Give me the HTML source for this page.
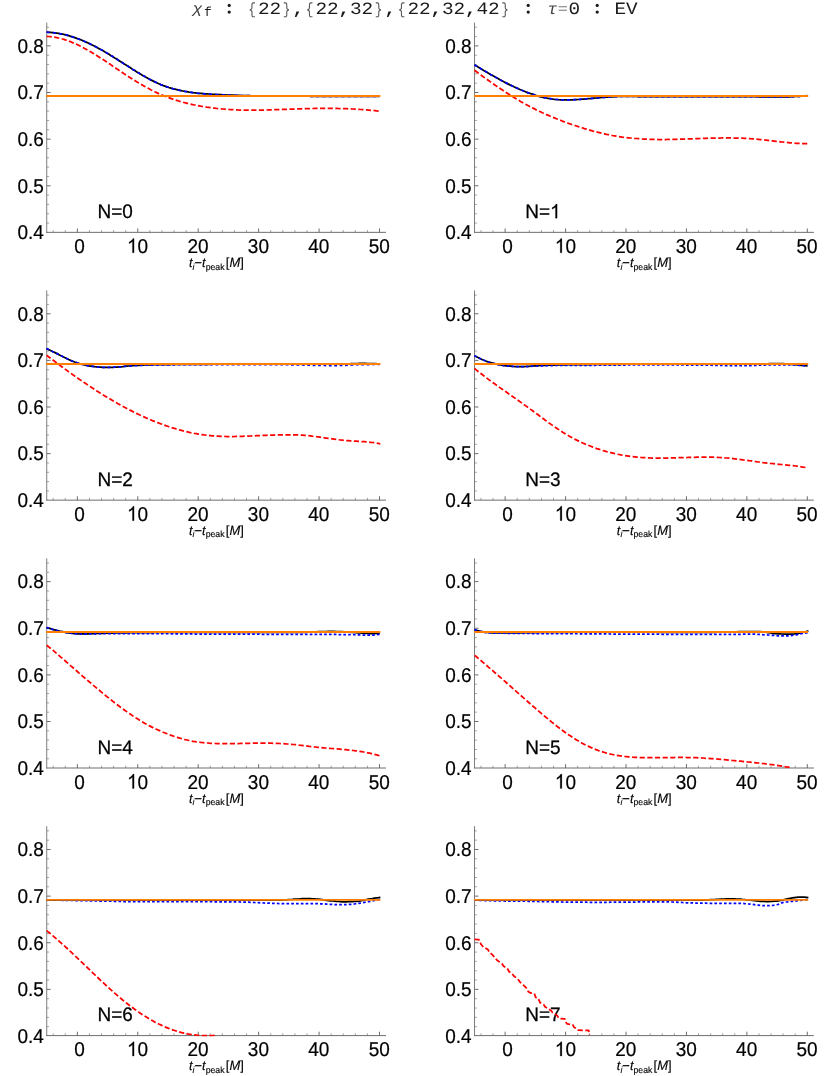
<!DOCTYPE html>
<html lang="en"><head><meta charset="utf-8"><title>chi_f fits</title>
<style>
html,body{margin:0;padding:0;background:#fff;}
body{width:830px;height:1076px;overflow:hidden;font-family:"Liberation Sans",sans-serif;}
svg{display:block;will-change:transform;}
text{font-family:"Liberation Sans",sans-serif;fill:#000;text-rendering:geometricPrecision;}
.tl text{font-size:19px;stroke:#000;stroke-width:0.2px;}
.nl{font-size:19px;stroke:#000;stroke-width:0.25px;}
.al{font-size:12.9px;stroke:#000;stroke-width:0.15px;}
.al .sub{font-size:8.7px;}
.tt text{font-family:"Liberation Mono",monospace;font-size:18px;fill:#1a1a1a;}
</style></head><body>
<svg width="830" height="1076" viewBox="0 0 830 1076">
<g class="tt">
<text transform="translate(197.60,13.00) scale(1.22,1)" text-anchor="middle" style="font-size:14.2px;fill:#3a3a3a;font-family:&quot;Liberation Sans&quot;;font-style:italic;">χ</text>
<text transform="translate(207.90,16.20) scale(1.0,1)" text-anchor="middle" style="font-size:13.1px;fill:#1a1a1a;">f</text>
<circle cx="229.20" cy="5.45" r="1.6" fill="#1a1a1a"/><circle cx="229.20" cy="12.1" r="1.6" fill="#1a1a1a"/>
<text transform="translate(252.20,13.50) scale(0.8,1)" text-anchor="middle" style="font-size:16.1px;fill:#5a5a5a;">{</text>
<text transform="translate(263.70,13.70) scale(1.12,1)" text-anchor="middle" style="font-size:17.3px;fill:#1a1a1a;">2</text>
<text transform="translate(275.20,13.70) scale(1.12,1)" text-anchor="middle" style="font-size:17.3px;fill:#1a1a1a;">2</text>
<text transform="translate(286.70,13.50) scale(0.8,1)" text-anchor="middle" style="font-size:16.1px;fill:#5a5a5a;">}</text>
<text transform="translate(298.20,13.80) scale(1.1,1)" text-anchor="middle" style="font-size:17.0px;fill:#1a1a1a;font-weight:bold;">,</text>
<text transform="translate(309.70,13.50) scale(0.8,1)" text-anchor="middle" style="font-size:16.1px;fill:#5a5a5a;">{</text>
<text transform="translate(321.20,13.70) scale(1.12,1)" text-anchor="middle" style="font-size:17.3px;fill:#1a1a1a;">2</text>
<text transform="translate(332.70,13.70) scale(1.12,1)" text-anchor="middle" style="font-size:17.3px;fill:#1a1a1a;">2</text>
<text transform="translate(344.20,13.80) scale(1.1,1)" text-anchor="middle" style="font-size:17.0px;fill:#1a1a1a;font-weight:bold;">,</text>
<text transform="translate(355.70,13.70) scale(1.12,1)" text-anchor="middle" style="font-size:17.3px;fill:#1a1a1a;">3</text>
<text transform="translate(367.20,13.70) scale(1.12,1)" text-anchor="middle" style="font-size:17.3px;fill:#1a1a1a;">2</text>
<text transform="translate(378.70,13.50) scale(0.8,1)" text-anchor="middle" style="font-size:16.1px;fill:#5a5a5a;">}</text>
<text transform="translate(390.20,13.80) scale(1.1,1)" text-anchor="middle" style="font-size:17.0px;fill:#1a1a1a;font-weight:bold;">,</text>
<text transform="translate(401.70,13.50) scale(0.8,1)" text-anchor="middle" style="font-size:16.1px;fill:#5a5a5a;">{</text>
<text transform="translate(413.20,13.70) scale(1.12,1)" text-anchor="middle" style="font-size:17.3px;fill:#1a1a1a;">2</text>
<text transform="translate(424.70,13.70) scale(1.12,1)" text-anchor="middle" style="font-size:17.3px;fill:#1a1a1a;">2</text>
<text transform="translate(436.20,13.80) scale(1.1,1)" text-anchor="middle" style="font-size:17.0px;fill:#1a1a1a;font-weight:bold;">,</text>
<text transform="translate(447.70,13.70) scale(1.12,1)" text-anchor="middle" style="font-size:17.3px;fill:#1a1a1a;">3</text>
<text transform="translate(459.20,13.70) scale(1.12,1)" text-anchor="middle" style="font-size:17.3px;fill:#1a1a1a;">2</text>
<text transform="translate(470.70,13.80) scale(1.1,1)" text-anchor="middle" style="font-size:17.0px;fill:#1a1a1a;font-weight:bold;">,</text>
<text transform="translate(482.20,13.70) scale(1.12,1)" text-anchor="middle" style="font-size:17.3px;fill:#1a1a1a;">4</text>
<text transform="translate(493.70,13.70) scale(1.12,1)" text-anchor="middle" style="font-size:17.3px;fill:#1a1a1a;">2</text>
<text transform="translate(505.20,13.50) scale(0.8,1)" text-anchor="middle" style="font-size:16.1px;fill:#5a5a5a;">}</text>
<circle cx="528.20" cy="5.45" r="1.6" fill="#1a1a1a"/><circle cx="528.20" cy="12.1" r="1.6" fill="#1a1a1a"/>
<text transform="translate(551.50,13.5) skewX(-12) scale(1.08,1)" text-anchor="middle" style="font-size:16.2px;fill:#484848;">τ</text>
<text transform="translate(562.90,13.40) scale(1.24,1)" text-anchor="middle" style="font-size:13.6px;fill:#777;">=</text>
<text transform="translate(574.20,13.70) scale(1.12,1)" text-anchor="middle" style="font-size:17.3px;fill:#1a1a1a;">0</text>
<circle cx="597.20" cy="5.45" r="1.6" fill="#1a1a1a"/><circle cx="597.20" cy="12.1" r="1.6" fill="#1a1a1a"/>
<text transform="translate(620.20,13.70) scale(1.12,1)" text-anchor="middle" style="font-size:17.3px;fill:#1a1a1a;">E</text>
<text transform="translate(631.70,13.70) scale(1.12,1)" text-anchor="middle" style="font-size:17.3px;fill:#1a1a1a;">V</text>
</g>
<g>
<clipPath id="c0"><rect x="46.03" y="22.6" width="341.3" height="210.28"/></clipPath>
<g stroke="#666" fill="none">
<path stroke-width="0.85" d="M46.73,22.56V232.80"/>
<path stroke-width="0.95" d="M46.31,232.35H386.03"/>
<path stroke-width="0.9" stroke="#5c5c5c" d="M77.35,232.35v-3.9M137.78,232.35v-3.9M198.21,232.35v-3.9M258.64,232.35v-3.9M319.07,232.35v-3.9M379.50,232.35v-3.9M46.73,185.77h3.9M46.73,139.14h3.9M46.73,92.51h3.9M46.73,45.88h3.9"/>
<path stroke-width="0.6" d="M53.18,232.35v-2.3M65.26,232.35v-2.3M89.44,232.35v-2.3M101.52,232.35v-2.3M113.61,232.35v-2.3M125.69,232.35v-2.3M149.87,232.35v-2.3M161.95,232.35v-2.3M174.04,232.35v-2.3M186.12,232.35v-2.3M210.30,232.35v-2.3M222.38,232.35v-2.3M234.47,232.35v-2.3M246.55,232.35v-2.3M270.73,232.35v-2.3M282.81,232.35v-2.3M294.90,232.35v-2.3M306.98,232.35v-2.3M331.16,232.35v-2.3M343.24,232.35v-2.3M355.33,232.35v-2.3M367.41,232.35v-2.3M46.73,223.07h2.3M46.73,213.75h2.3M46.73,204.42h2.3M46.73,195.10h2.3M46.73,176.44h2.3M46.73,167.12h2.3M46.73,157.79h2.3M46.73,148.47h2.3M46.73,129.81h2.3M46.73,120.49h2.3M46.73,111.16h2.3M46.73,101.84h2.3M46.73,83.18h2.3M46.73,73.86h2.3M46.73,64.53h2.3M46.73,55.21h2.3M46.73,36.55h2.3M46.73,27.23h2.3"/>
</g>
<g class="tl">
<text transform="translate(74.37,252.85) scale(1,1.055)">0</text>
<path transform="translate(127.01,252.85) scale(0.009277,-0.009788)" d="M763 0H583V1147Q518 1085 412.5 1023T223 930V1104Q374 1175 487 1276T647 1472H763Z" fill="#000" stroke="#000" stroke-width="21.6"/><text transform="translate(137.58,252.85) scale(1,1.055)">0</text>
<text transform="translate(187.44,252.85) scale(1,1.055)">20</text>
<text transform="translate(247.87,252.85) scale(1,1.055)">30</text>
<text transform="translate(308.30,252.85) scale(1,1.055)">40</text>
<text transform="translate(368.73,252.85) scale(1,1.055)">50</text>
<text transform="translate(17.42,239.20) scale(1,1.055)">0.4</text>
<text transform="translate(17.42,192.57) scale(1,1.055)">0.5</text>
<text transform="translate(17.42,145.94) scale(1,1.055)">0.6</text>
<text transform="translate(17.42,99.31) scale(1,1.055)">0.7</text>
<text transform="translate(17.42,52.68) scale(1,1.055)">0.8</text>
</g>
<text class="al" transform="translate(216.38,267.10) scale(1,1.03)" text-anchor="middle"><tspan font-style="italic">t</tspan><tspan class="sub" dy="2.5" font-style="italic">i</tspan><tspan dy="-2.5">&#8722;</tspan><tspan font-style="italic">t</tspan><tspan class="sub" dy="2.5">peak</tspan><tspan dy="-2.5" dx="1.3">[</tspan><tspan font-style="italic">M</tspan>]</text>
<text class="nl" transform="translate(97.44,218.15) scale(1,1.03)">N=0</text>
<g clip-path="url(#c0)" fill="none" stroke-width="1.75" stroke-linejoin="round">
<path d="M46.6,36.4 L48.6,36.5 L50.6,36.7 L52.6,36.9 L54.6,37.2 L56.6,37.6 L58.6,38.0 L60.6,38.5 L62.6,39.0 L64.6,39.6 L66.6,40.3 L68.6,41.0 L70.6,41.8 L72.6,42.6 L74.6,43.4 L76.6,44.3 L78.6,45.3 L80.6,46.3 L82.6,47.3 L84.6,48.4 L86.6,49.5 L88.6,50.6 L90.6,51.8 L92.6,53.0 L94.6,54.2 L96.6,55.4 L98.6,56.7 L100.6,58.0 L102.6,59.3 L104.6,60.6 L106.6,61.9 L108.6,63.3 L110.6,64.6 L112.6,66.0 L114.6,67.3 L116.6,68.7 L118.6,70.0 L120.6,71.4 L122.6,72.7 L124.6,74.1 L126.6,75.4 L128.7,76.7 L130.7,78.0 L132.7,79.3 L134.7,80.5 L136.7,81.7 L138.7,83.0 L140.7,84.1 L142.7,85.3 L144.7,86.4 L146.7,87.5 L148.7,88.6 L150.7,89.7 L152.7,90.7 L154.7,91.7 L156.7,92.6 L158.7,93.6 L160.7,94.5 L162.7,95.3 L164.7,96.1 L166.7,96.9 L168.7,97.7 L170.7,98.4 L172.7,99.1 L174.7,99.8 L176.7,100.4 L178.7,101.0 L180.7,101.6 L182.7,102.1 L184.7,102.7 L186.7,103.2 L188.7,103.7 L190.7,104.1 L192.7,104.6 L194.7,105.0 L196.7,105.4 L198.7,105.8 L200.7,106.2 L202.7,106.5 L204.7,106.8 L206.7,107.2 L208.7,107.4 L210.7,107.7 L212.7,108.0 L214.7,108.2 L216.7,108.5 L218.7,108.7 L220.7,108.9 L222.7,109.0 L224.7,109.2 L226.7,109.4 L228.7,109.5 L230.7,109.6 L232.7,109.7 L234.7,109.8 L236.7,109.9 L238.7,110.0 L240.7,110.0 L242.7,110.1 L244.7,110.1 L246.7,110.1 L248.7,110.2 L250.7,110.2 L252.7,110.2 L254.7,110.2 L256.7,110.1 L258.7,110.1 L260.7,110.1 L262.7,110.1 L264.7,110.0 L266.7,110.0 L268.7,109.9 L270.7,109.9 L272.7,109.8 L274.7,109.7 L276.7,109.7 L278.7,109.6 L280.7,109.5 L282.7,109.4 L284.7,109.4 L286.7,109.3 L288.7,109.2 L290.7,109.2 L292.7,109.1 L294.7,109.0 L296.7,108.9 L298.7,108.9 L300.7,108.8 L302.7,108.7 L304.7,108.7 L306.7,108.6 L308.7,108.6 L310.7,108.5 L312.7,108.5 L314.7,108.4 L316.7,108.4 L318.7,108.4 L320.7,108.4 L322.7,108.4 L324.7,108.4 L326.7,108.4 L328.7,108.4 L330.7,108.4 L332.7,108.4 L334.7,108.4 L336.7,108.4 L338.7,108.5 L340.7,108.5 L342.7,108.6 L344.7,108.7 L346.7,108.7 L348.7,108.8 L350.7,108.9 L352.7,109.0 L354.7,109.1 L356.7,109.2 L358.7,109.3 L360.7,109.5 L362.7,109.6 L364.7,109.8 L366.7,109.9 L368.7,110.1 L370.7,110.3 L372.7,110.4 L374.7,110.6 L376.7,110.9 L378.7,111.1 L380.7,111.3" stroke="#ff0000" stroke-dasharray="5.2 2.45"/>
<path d="M46.6,32.2 L48.6,32.3 L50.6,32.4 L52.6,32.6 L54.6,32.8 L56.6,33.1 L58.6,33.4 L60.7,33.8 L62.7,34.2 L64.7,34.6 L66.7,35.1 L68.7,35.7 L70.7,36.3 L72.7,36.9 L74.7,37.6 L76.7,38.3 L78.7,39.0 L80.7,39.8 L82.7,40.6 L84.7,41.5 L86.7,42.4 L88.7,43.3 L90.7,44.2 L92.7,45.2 L94.7,46.2 L96.7,47.3 L98.7,48.4 L100.7,49.5 L102.7,50.6 L104.7,51.8 L106.7,52.9 L108.7,54.1 L110.7,55.4 L112.7,56.6 L114.7,57.9 L116.7,59.1 L118.7,60.4 L120.8,61.7 L122.8,63.0 L124.8,64.3 L126.8,65.5 L128.8,66.8 L130.8,68.1 L132.8,69.4 L134.8,70.6 L136.8,71.9 L138.8,73.1 L140.8,74.3 L142.8,75.5 L144.8,76.6 L146.8,77.7 L148.8,78.8 L150.8,79.9 L152.8,80.9 L154.8,81.9 L156.8,82.8 L158.8,83.7 L160.8,84.6 L162.8,85.4 L164.8,86.1 L166.8,86.8 L168.8,87.5 L170.8,88.1 L172.8,88.7 L174.8,89.2 L176.8,89.7 L178.9,90.2 L180.9,90.6 L182.9,91.0 L184.9,91.4 L186.9,91.7 L188.9,92.1 L190.9,92.3 L192.9,92.6 L194.9,92.8 L196.9,93.1 L198.9,93.3 L200.9,93.4 L202.9,93.6 L204.9,93.8 L206.9,93.9 L208.9,94.0 L210.9,94.2 L212.9,94.3 L214.9,94.4 L216.9,94.5 L218.9,94.6 L220.9,94.7 L222.9,94.8 L224.9,94.9 L226.9,95.0 L228.9,95.1 L230.9,95.1 L232.9,95.2 L234.9,95.3 L237.0,95.3 L239.0,95.4 L241.0,95.5 L243.0,95.5 L245.0,95.6 L247.0,95.7 L249.0,95.7 L251.0,95.8 L253.0,95.8 L255.0,95.9 L257.0,95.9 L259.0,96.0 L261.0,96.0 L263.0,96.1 L265.0,96.1 L267.0,96.1 L269.0,96.1 L271.0,96.1 L273.0,96.1 L275.0,96.1 L277.1,96.1 L279.1,96.1 L281.1,96.1 L283.1,96.1 L285.1,96.1 L287.1,96.1 L289.1,96.1 L291.1,96.1 L293.1,96.1 L295.1,96.1 L297.1,96.1 L299.1,96.1 L301.2,96.1 L303.2,96.2 L305.2,96.2 L307.2,96.2 L309.2,96.2 L311.2,96.3 L313.2,96.3 L315.2,96.3 L317.2,96.3 L319.2,96.3 L321.2,96.4 L323.3,96.4 L325.3,96.4 L327.3,96.4 L329.3,96.4 L331.3,96.4 L333.3,96.4 L335.3,96.4 L337.3,96.4 L339.3,96.4 L341.3,96.4 L343.3,96.4 L345.4,96.4 L347.4,96.4 L349.4,96.4 L351.4,96.4 L353.4,96.4 L355.4,96.4 L357.4,96.4 L359.4,96.4 L361.4,96.4 L363.4,96.4 L365.4,96.4 L367.4,96.4 L369.5,96.4 L371.5,96.4 L373.5,96.4 L375.5,96.4 L377.5,96.4 L379.5,96.5" stroke="#000"/>
<path d="M46.6,32.2 L48.6,32.3 L50.6,32.4 L52.6,32.6 L54.6,32.8 L56.6,33.1 L58.6,33.4 L60.7,33.8 L62.7,34.2 L64.7,34.6 L66.7,35.1 L68.7,35.7 L70.7,36.3 L72.7,36.9 L74.7,37.6 L76.7,38.3 L78.7,39.0 L80.7,39.8 L82.7,40.6 L84.7,41.5 L86.7,42.4 L88.7,43.3 L90.7,44.2 L92.7,45.2 L94.7,46.2 L96.7,47.3 L98.7,48.4 L100.7,49.5 L102.7,50.6 L104.7,51.8 L106.7,52.9 L108.7,54.1 L110.7,55.4 L112.7,56.6 L114.7,57.9 L116.7,59.1 L118.7,60.4 L120.8,61.7 L122.8,63.0 L124.8,64.3 L126.8,65.5 L128.8,66.8 L130.8,68.1 L132.8,69.4 L134.8,70.6 L136.8,71.9 L138.8,73.1 L140.8,74.3 L142.8,75.5 L144.8,76.6 L146.8,77.7 L148.8,78.8 L150.8,79.9 L152.8,80.9 L154.8,81.9 L156.8,82.8 L158.8,83.7 L160.8,84.6 L162.8,85.4 L164.8,86.1 L166.8,86.8 L168.8,87.5 L170.8,88.1 L172.8,88.7 L174.8,89.2 L176.8,89.7 L178.9,90.2 L180.9,90.6 L182.9,91.0 L184.9,91.4 L186.9,91.7 L188.9,92.1 L190.9,92.3 L192.9,92.6 L194.9,92.8 L196.9,93.1 L198.9,93.3 L200.9,93.4 L202.9,93.6 L204.9,93.8 L206.9,93.9 L208.9,94.0 L210.9,94.2 L212.9,94.3 L214.9,94.4 L216.9,94.5 L218.9,94.6 L220.9,94.7 L222.9,94.8 L224.9,94.9 L226.9,95.0 L228.9,95.1 L230.9,95.1 L232.9,95.2 L234.9,95.3 L237.0,95.3 L239.0,95.4 L241.0,95.5 L243.0,95.5 L245.0,95.6 L247.0,95.7 L249.0,95.7 L251.0,95.8 L253.0,95.8 L255.0,95.9 L257.0,95.9 L259.0,96.0 L261.0,96.0 L263.0,96.1 L265.0,96.1 L267.0,96.1 L269.0,96.1 L271.0,96.1 L273.0,96.1 L275.0,96.1 L277.1,96.1 L279.1,96.1 L281.1,96.1 L283.1,96.1 L285.1,96.1 L287.1,96.1 L289.1,96.1 L291.1,96.1 L293.1,96.1 L295.1,96.1 L297.1,96.1 L299.1,96.1 L301.2,96.1 L303.2,96.2 L305.2,96.2 L307.2,96.2 L309.2,96.2 L311.2,96.3 L313.2,96.3 L315.2,96.3 L317.2,96.3 L319.2,96.3 L321.2,96.4 L323.3,96.4 L325.3,96.4 L327.3,96.4 L329.3,96.4 L331.3,96.4 L333.3,96.4 L335.3,96.4 L337.3,96.4 L339.3,96.4 L341.3,96.4 L343.3,96.4 L345.4,96.4 L347.4,96.4 L349.4,96.4 L351.4,96.4 L353.4,96.4 L355.4,96.4 L357.4,96.4 L359.4,96.4 L361.4,96.4 L363.4,96.4 L365.4,96.4 L367.4,96.4 L369.5,96.4 L371.5,96.4 L373.5,96.4 L375.5,96.4 L377.5,96.4 L379.5,96.5" stroke="#0000ff" stroke-dasharray="3.1 3.2"/>
<path d="M46.03,96.05H380.4" stroke="#ff8000" stroke-width="1.9"/>
</g>
</g>
<g>
<clipPath id="c1"><rect x="473.83" y="22.6" width="341.3" height="210.28"/></clipPath>
<g stroke="#666" fill="none">
<path stroke-width="0.85" d="M474.53,22.56V232.80"/>
<path stroke-width="0.95" d="M474.11,232.35H813.83"/>
<path stroke-width="0.9" stroke="#5c5c5c" d="M505.15,232.35v-3.9M565.58,232.35v-3.9M626.01,232.35v-3.9M686.44,232.35v-3.9M746.87,232.35v-3.9M807.30,232.35v-3.9M474.53,185.77h3.9M474.53,139.14h3.9M474.53,92.51h3.9M474.53,45.88h3.9"/>
<path stroke-width="0.6" d="M480.98,232.35v-2.3M493.06,232.35v-2.3M517.24,232.35v-2.3M529.32,232.35v-2.3M541.41,232.35v-2.3M553.49,232.35v-2.3M577.67,232.35v-2.3M589.75,232.35v-2.3M601.84,232.35v-2.3M613.92,232.35v-2.3M638.10,232.35v-2.3M650.18,232.35v-2.3M662.27,232.35v-2.3M674.35,232.35v-2.3M698.53,232.35v-2.3M710.61,232.35v-2.3M722.70,232.35v-2.3M734.78,232.35v-2.3M758.96,232.35v-2.3M771.04,232.35v-2.3M783.13,232.35v-2.3M795.21,232.35v-2.3M474.53,223.07h2.3M474.53,213.75h2.3M474.53,204.42h2.3M474.53,195.10h2.3M474.53,176.44h2.3M474.53,167.12h2.3M474.53,157.79h2.3M474.53,148.47h2.3M474.53,129.81h2.3M474.53,120.49h2.3M474.53,111.16h2.3M474.53,101.84h2.3M474.53,83.18h2.3M474.53,73.86h2.3M474.53,64.53h2.3M474.53,55.21h2.3M474.53,36.55h2.3M474.53,27.23h2.3"/>
</g>
<g class="tl">
<text transform="translate(502.17,252.85) scale(1,1.055)">0</text>
<path transform="translate(554.81,252.85) scale(0.009277,-0.009788)" d="M763 0H583V1147Q518 1085 412.5 1023T223 930V1104Q374 1175 487 1276T647 1472H763Z" fill="#000" stroke="#000" stroke-width="21.6"/><text transform="translate(565.38,252.85) scale(1,1.055)">0</text>
<text transform="translate(615.24,252.85) scale(1,1.055)">20</text>
<text transform="translate(675.67,252.85) scale(1,1.055)">30</text>
<text transform="translate(736.10,252.85) scale(1,1.055)">40</text>
<text transform="translate(796.53,252.85) scale(1,1.055)">50</text>
<text transform="translate(445.22,239.20) scale(1,1.055)">0.4</text>
<text transform="translate(445.22,192.57) scale(1,1.055)">0.5</text>
<text transform="translate(445.22,145.94) scale(1,1.055)">0.6</text>
<text transform="translate(445.22,99.31) scale(1,1.055)">0.7</text>
<text transform="translate(445.22,52.68) scale(1,1.055)">0.8</text>
</g>
<text class="al" transform="translate(644.18,267.10) scale(1,1.03)" text-anchor="middle"><tspan font-style="italic">t</tspan><tspan class="sub" dy="2.5" font-style="italic">i</tspan><tspan dy="-2.5">&#8722;</tspan><tspan font-style="italic">t</tspan><tspan class="sub" dy="2.5">peak</tspan><tspan dy="-2.5" dx="1.3">[</tspan><tspan font-style="italic">M</tspan>]</text>
<text class="nl" transform="translate(525.24,218.15) scale(1,1.03)">N=</text><path transform="translate(550.05,218.15) scale(0.009277,-0.009556)" d="M763 0H583V1147Q518 1085 412.5 1023T223 930V1104Q374 1175 487 1276T647 1472H763Z" fill="#000" stroke="#000" stroke-width="26.9"/>
<g clip-path="url(#c1)" fill="none" stroke-width="1.75" stroke-linejoin="round">
<path d="M474.5,70.3 L476.5,71.8 L478.5,73.3 L480.5,74.7 L482.5,76.2 L484.5,77.6 L486.5,79.0 L488.5,80.5 L490.5,81.9 L492.5,83.3 L494.5,84.7 L496.5,86.1 L498.5,87.4 L500.5,88.8 L502.5,90.1 L504.5,91.4 L506.5,92.7 L508.5,94.0 L510.5,95.3 L512.5,96.6 L514.5,97.8 L516.5,99.0 L518.5,100.2 L520.5,101.4 L522.5,102.5 L524.5,103.6 L526.5,104.8 L528.5,105.8 L530.5,106.9 L532.5,107.9 L534.5,108.9 L536.4,109.9 L538.4,110.9 L540.4,111.8 L542.4,112.8 L544.4,113.7 L546.4,114.6 L548.4,115.4 L550.4,116.3 L552.4,117.1 L554.4,117.9 L556.4,118.7 L558.4,119.5 L560.4,120.3 L562.4,121.1 L564.4,121.8 L566.4,122.5 L568.4,123.3 L570.4,124.0 L572.4,124.7 L574.4,125.3 L576.4,126.0 L578.4,126.7 L580.4,127.3 L582.4,127.9 L584.4,128.6 L586.4,129.2 L588.4,129.7 L590.4,130.3 L592.4,130.9 L594.4,131.4 L596.4,131.9 L598.4,132.4 L600.4,132.9 L602.4,133.4 L604.4,133.8 L606.4,134.3 L608.4,134.7 L610.4,135.1 L612.4,135.5 L614.4,135.8 L616.4,136.2 L618.4,136.5 L620.4,136.8 L622.4,137.1 L624.4,137.3 L626.4,137.6 L628.4,137.8 L630.4,138.0 L632.4,138.2 L634.4,138.4 L636.4,138.5 L638.4,138.7 L640.4,138.8 L642.4,139.0 L644.4,139.1 L646.3,139.2 L648.3,139.2 L650.3,139.3 L652.3,139.4 L654.3,139.4 L656.3,139.4 L658.3,139.5 L660.3,139.5 L662.3,139.5 L664.3,139.5 L666.3,139.5 L668.3,139.4 L670.3,139.4 L672.3,139.4 L674.3,139.3 L676.3,139.3 L678.3,139.2 L680.3,139.2 L682.3,139.1 L684.3,139.1 L686.3,139.0 L688.3,138.9 L690.3,138.9 L692.3,138.8 L694.3,138.7 L696.3,138.6 L698.3,138.6 L700.3,138.5 L702.3,138.4 L704.3,138.4 L706.3,138.3 L708.3,138.2 L710.3,138.2 L712.3,138.1 L714.3,138.1 L716.3,138.0 L718.3,138.0 L720.3,138.0 L722.3,137.9 L724.3,137.9 L726.3,137.9 L728.3,137.9 L730.3,137.9 L732.3,138.0 L734.3,138.0 L736.3,138.0 L738.3,138.1 L740.3,138.1 L742.3,138.2 L744.3,138.3 L746.3,138.4 L748.3,138.5 L750.3,138.7 L752.3,138.8 L754.2,139.0 L756.2,139.2 L758.2,139.4 L760.2,139.6 L762.2,139.8 L764.2,140.0 L766.2,140.2 L768.2,140.4 L770.2,140.7 L772.2,140.9 L774.2,141.1 L776.2,141.4 L778.2,141.6 L780.2,141.8 L782.2,142.0 L784.2,142.2 L786.2,142.4 L788.2,142.6 L790.2,142.8 L792.2,143.0 L794.2,143.1 L796.2,143.3 L798.2,143.4 L800.2,143.5 L802.2,143.6 L804.2,143.6 L806.2,143.7 L808.2,143.7" stroke="#ff0000" stroke-dasharray="5.2 2.45"/>
<path d="M474.5,64.9 L476.5,66.1 L478.5,67.3 L480.5,68.5 L482.5,69.7 L484.5,70.9 L486.5,72.0 L488.5,73.2 L490.5,74.4 L492.5,75.5 L494.4,76.6 L496.4,77.7 L498.4,78.8 L500.4,79.9 L502.4,81.0 L504.4,82.1 L506.4,83.1 L508.4,84.1 L510.4,85.1 L512.4,86.0 L514.4,87.0 L516.4,87.9 L518.4,88.8 L520.4,89.7 L522.4,90.5 L524.4,91.3 L526.3,92.1 L528.3,92.8 L530.3,93.5 L532.3,94.2 L534.3,94.9 L536.3,95.5 L538.3,96.1 L540.3,96.6 L542.3,97.1 L544.3,97.6 L546.3,98.0 L548.3,98.4 L550.3,98.7 L552.3,99.0 L554.3,99.3 L556.3,99.5 L558.2,99.7 L560.2,99.8 L562.2,99.9 L564.2,99.9 L566.2,99.9 L568.2,99.9 L570.2,99.9 L572.2,99.8 L574.2,99.7 L576.2,99.6 L578.2,99.5 L580.2,99.4 L582.2,99.2 L584.2,99.1 L586.2,98.9 L588.2,98.7 L590.2,98.6 L592.1,98.4 L594.1,98.2 L596.1,98.0 L598.1,97.9 L600.1,97.7 L602.1,97.5 L604.1,97.4 L606.1,97.2 L608.1,97.1 L610.1,96.9 L612.1,96.8 L614.1,96.7 L616.1,96.6 L618.1,96.5 L620.1,96.4 L622.1,96.3 L624.0,96.3 L626.0,96.3 L628.0,96.3 L630.0,96.3 L632.0,96.3 L634.0,96.4 L636.0,96.5 L638.0,96.6 L640.0,96.7 L642.0,96.7 L644.0,96.7 L646.0,96.7 L648.0,96.7 L650.0,96.6 L652.0,96.6 L654.0,96.6 L656.0,96.6 L657.9,96.6 L659.9,96.6 L661.9,96.6 L663.9,96.6 L665.9,96.5 L667.9,96.5 L669.9,96.5 L671.9,96.5 L673.9,96.5 L675.9,96.5 L677.9,96.5 L679.9,96.5 L681.9,96.5 L683.9,96.5 L685.9,96.5 L687.9,96.5 L689.9,96.5 L691.8,96.5 L693.8,96.5 L695.8,96.5 L697.8,96.5 L699.8,96.5 L701.8,96.5 L703.8,96.5 L705.8,96.5 L707.8,96.5 L709.8,96.5 L711.8,96.5 L713.8,96.5 L715.8,96.5 L717.8,96.5 L719.8,96.5 L721.8,96.5 L723.8,96.5 L725.7,96.5 L727.7,96.5 L729.7,96.5 L731.7,96.5 L733.7,96.5 L735.7,96.5 L737.7,96.5 L739.7,96.5 L741.7,96.5 L743.7,96.5 L745.7,96.5 L747.7,96.6 L749.7,96.6 L751.7,96.6 L753.7,96.7 L755.7,96.7 L757.6,96.7 L759.6,96.8 L761.6,96.8 L763.6,96.8 L765.6,96.8 L767.6,96.8 L769.6,96.8 L771.6,96.8 L773.6,96.8 L775.6,96.8 L777.6,96.8 L779.6,96.8 L781.6,96.8 L783.6,96.8 L785.6,96.8 L787.6,96.8 L789.6,96.8 L791.5,96.7 L793.5,96.6 L795.5,96.5 L797.5,96.4 L799.5,96.3 L801.5,96.2 L803.5,96.0 L805.5,95.9 L807.5,95.7" stroke="#000"/>
<path d="M474.5,64.9 L476.5,66.1 L478.5,67.3 L480.5,68.5 L482.5,69.7 L484.5,70.9 L486.5,72.0 L488.5,73.2 L490.5,74.4 L492.5,75.5 L494.4,76.6 L496.4,77.7 L498.4,78.8 L500.4,79.9 L502.4,81.0 L504.4,82.1 L506.4,83.1 L508.4,84.1 L510.4,85.1 L512.4,86.0 L514.4,87.0 L516.4,87.9 L518.4,88.8 L520.4,89.7 L522.4,90.5 L524.4,91.3 L526.3,92.1 L528.3,92.8 L530.3,93.5 L532.3,94.2 L534.3,94.9 L536.3,95.5 L538.3,96.1 L540.3,96.6 L542.3,97.1 L544.3,97.6 L546.3,98.0 L548.3,98.4 L550.3,98.7 L552.3,99.0 L554.3,99.3 L556.3,99.5 L558.2,99.7 L560.2,99.8 L562.2,99.9 L564.2,99.9 L566.2,99.9 L568.2,99.9 L570.2,99.9 L572.2,99.8 L574.2,99.7 L576.2,99.6 L578.2,99.5 L580.2,99.4 L582.2,99.2 L584.2,99.1 L586.2,98.9 L588.2,98.7 L590.2,98.6 L592.1,98.4 L594.1,98.2 L596.1,98.0 L598.1,97.9 L600.1,97.7 L602.1,97.5 L604.1,97.4 L606.1,97.2 L608.1,97.1 L610.1,96.9 L612.1,96.8 L614.1,96.7 L616.1,96.6 L618.1,96.5 L620.1,96.4 L622.1,96.3 L624.0,96.3 L626.0,96.3 L628.0,96.3 L630.0,96.3 L632.0,96.3 L634.0,96.4 L636.0,96.5 L638.0,96.6 L640.0,96.7 L642.0,96.7 L644.0,96.7 L646.0,96.7 L648.0,96.7 L650.0,96.6 L652.0,96.6 L654.0,96.6 L656.0,96.6 L657.9,96.6 L659.9,96.6 L661.9,96.6 L663.9,96.6 L665.9,96.5 L667.9,96.5 L669.9,96.5 L671.9,96.5 L673.9,96.5 L675.9,96.5 L677.9,96.5 L679.9,96.5 L681.9,96.5 L683.9,96.5 L685.9,96.5 L687.9,96.5 L689.9,96.5 L691.8,96.5 L693.8,96.5 L695.8,96.5 L697.8,96.5 L699.8,96.5 L701.8,96.5 L703.8,96.5 L705.8,96.5 L707.8,96.5 L709.8,96.5 L711.8,96.5 L713.8,96.5 L715.8,96.5 L717.8,96.5 L719.8,96.5 L721.8,96.5 L723.8,96.5 L725.7,96.5 L727.7,96.5 L729.7,96.5 L731.7,96.5 L733.7,96.5 L735.7,96.5 L737.7,96.5 L739.7,96.5 L741.7,96.5 L743.7,96.5 L745.7,96.5 L747.7,96.6 L749.7,96.6 L751.7,96.6 L753.7,96.7 L755.7,96.7 L757.6,96.7 L759.6,96.8 L761.6,96.8 L763.6,96.8 L765.6,96.8 L767.6,96.8 L769.6,96.8 L771.6,96.8 L773.6,96.8 L775.6,96.8 L777.6,96.8 L779.6,96.8 L781.6,96.8 L783.6,96.8 L785.6,96.8 L787.6,96.8 L789.6,96.8 L791.5,96.7 L793.5,96.6 L795.5,96.5 L797.5,96.4 L799.5,96.3 L801.5,96.2 L803.5,96.0 L805.5,95.9 L807.5,95.7" stroke="#0000ff" stroke-dasharray="3 2.9"/>
<path d="M473.83,96.05H808.2" stroke="#ff8000" stroke-width="1.9"/>
</g>
</g>
<g>
<clipPath id="c2"><rect x="46.03" y="290.4" width="341.3" height="210.29"/></clipPath>
<g stroke="#666" fill="none">
<path stroke-width="0.85" d="M46.73,290.43V500.60"/>
<path stroke-width="0.95" d="M46.31,500.15H386.03"/>
<path stroke-width="0.9" stroke="#5c5c5c" d="M77.35,500.15v-3.9M137.78,500.15v-3.9M198.21,500.15v-3.9M258.64,500.15v-3.9M319.07,500.15v-3.9M379.50,500.15v-3.9M46.73,453.64h3.9M46.73,407.01h3.9M46.73,360.38h3.9M46.73,313.75h3.9"/>
<path stroke-width="0.6" d="M53.18,500.15v-2.3M65.26,500.15v-2.3M89.44,500.15v-2.3M101.52,500.15v-2.3M113.61,500.15v-2.3M125.69,500.15v-2.3M149.87,500.15v-2.3M161.95,500.15v-2.3M174.04,500.15v-2.3M186.12,500.15v-2.3M210.30,500.15v-2.3M222.38,500.15v-2.3M234.47,500.15v-2.3M246.55,500.15v-2.3M270.73,500.15v-2.3M282.81,500.15v-2.3M294.90,500.15v-2.3M306.98,500.15v-2.3M331.16,500.15v-2.3M343.24,500.15v-2.3M355.33,500.15v-2.3M367.41,500.15v-2.3M46.73,490.94h2.3M46.73,481.62h2.3M46.73,472.29h2.3M46.73,462.97h2.3M46.73,444.31h2.3M46.73,434.99h2.3M46.73,425.66h2.3M46.73,416.34h2.3M46.73,397.68h2.3M46.73,388.36h2.3M46.73,379.03h2.3M46.73,369.71h2.3M46.73,351.05h2.3M46.73,341.73h2.3M46.73,332.40h2.3M46.73,323.08h2.3M46.73,304.42h2.3M46.73,295.10h2.3"/>
</g>
<g class="tl">
<text transform="translate(74.37,520.65) scale(1,1.055)">0</text>
<path transform="translate(127.01,520.65) scale(0.009277,-0.009788)" d="M763 0H583V1147Q518 1085 412.5 1023T223 930V1104Q374 1175 487 1276T647 1472H763Z" fill="#000" stroke="#000" stroke-width="21.6"/><text transform="translate(137.58,520.65) scale(1,1.055)">0</text>
<text transform="translate(187.44,520.65) scale(1,1.055)">20</text>
<text transform="translate(247.87,520.65) scale(1,1.055)">30</text>
<text transform="translate(308.30,520.65) scale(1,1.055)">40</text>
<text transform="translate(368.73,520.65) scale(1,1.055)">50</text>
<text transform="translate(17.42,507.07) scale(1,1.055)">0.4</text>
<text transform="translate(17.42,460.44) scale(1,1.055)">0.5</text>
<text transform="translate(17.42,413.81) scale(1,1.055)">0.6</text>
<text transform="translate(17.42,367.18) scale(1,1.055)">0.7</text>
<text transform="translate(17.42,320.55) scale(1,1.055)">0.8</text>
</g>
<text class="al" transform="translate(216.38,534.90) scale(1,1.03)" text-anchor="middle"><tspan font-style="italic">t</tspan><tspan class="sub" dy="2.5" font-style="italic">i</tspan><tspan dy="-2.5">&#8722;</tspan><tspan font-style="italic">t</tspan><tspan class="sub" dy="2.5">peak</tspan><tspan dy="-2.5" dx="1.3">[</tspan><tspan font-style="italic">M</tspan>]</text>
<text class="nl" transform="translate(97.44,485.95) scale(1,1.03)">N=2</text>
<g clip-path="url(#c2)" fill="none" stroke-width="1.75" stroke-linejoin="round">
<path d="M46.5,355.1 L48.5,356.7 L50.5,358.2 L52.5,359.7 L54.5,361.2 L56.5,362.7 L58.5,364.2 L60.5,365.7 L62.5,367.2 L64.5,368.7 L66.5,370.1 L68.5,371.6 L70.5,373.0 L72.5,374.5 L74.5,375.9 L76.5,377.3 L78.5,378.7 L80.5,380.1 L82.5,381.4 L84.5,382.8 L86.5,384.1 L88.5,385.5 L90.5,386.8 L92.5,388.1 L94.5,389.4 L96.5,390.7 L98.5,392.0 L100.5,393.2 L102.5,394.5 L104.5,395.7 L106.5,396.9 L108.5,398.1 L110.5,399.3 L112.5,400.5 L114.5,401.7 L116.5,402.8 L118.5,403.9 L120.5,405.0 L122.5,406.1 L124.5,407.2 L126.5,408.3 L128.5,409.3 L130.5,410.4 L132.5,411.4 L134.5,412.4 L136.5,413.4 L138.4,414.3 L140.4,415.3 L142.4,416.2 L144.4,417.1 L146.4,418.0 L148.4,418.9 L150.4,419.7 L152.4,420.6 L154.4,421.4 L156.4,422.2 L158.4,422.9 L160.4,423.7 L162.4,424.4 L164.4,425.2 L166.4,425.9 L168.4,426.5 L170.4,427.2 L172.4,427.8 L174.4,428.4 L176.4,429.0 L178.4,429.6 L180.4,430.1 L182.4,430.7 L184.4,431.2 L186.4,431.7 L188.4,432.1 L190.4,432.6 L192.4,433.0 L194.4,433.4 L196.4,433.7 L198.4,434.1 L200.4,434.4 L202.4,434.7 L204.4,435.0 L206.4,435.2 L208.4,435.4 L210.4,435.6 L212.4,435.8 L214.4,436.0 L216.4,436.1 L218.4,436.2 L220.4,436.3 L222.4,436.4 L224.4,436.4 L226.4,436.5 L228.4,436.5 L230.4,436.5 L232.4,436.5 L234.4,436.5 L236.4,436.4 L238.4,436.4 L240.4,436.4 L242.4,436.3 L244.4,436.2 L246.4,436.2 L248.4,436.1 L250.4,436.0 L252.4,435.9 L254.4,435.8 L256.4,435.7 L258.4,435.6 L260.4,435.6 L262.4,435.5 L264.4,435.4 L266.4,435.3 L268.4,435.2 L270.4,435.1 L272.4,435.0 L274.4,435.0 L276.4,434.9 L278.4,434.9 L280.4,434.8 L282.4,434.8 L284.4,434.8 L286.4,434.8 L288.4,434.8 L290.4,434.8 L292.4,434.8 L294.4,434.9 L296.4,434.9 L298.4,435.0 L300.3,435.1 L302.3,435.2 L304.3,435.4 L306.3,435.5 L308.3,435.7 L310.3,435.9 L312.3,436.2 L314.3,436.4 L316.3,436.7 L318.3,436.9 L320.3,437.2 L322.3,437.5 L324.3,437.8 L326.3,438.1 L328.3,438.4 L330.3,438.6 L332.3,438.9 L334.3,439.2 L336.3,439.5 L338.3,439.7 L340.3,440.0 L342.3,440.2 L344.3,440.4 L346.3,440.6 L348.3,440.7 L350.3,440.9 L352.3,441.0 L354.3,441.1 L356.3,441.2 L358.3,441.4 L360.3,441.5 L362.3,441.6 L364.3,441.7 L366.3,441.9 L368.3,442.1 L370.3,442.3 L372.3,442.5 L374.3,442.7 L376.3,443.0 L378.3,443.4 L380.3,443.8" stroke="#ff0000" stroke-dasharray="5.2 2.45"/>
<path d="M46.5,348.5 L48.5,349.5 L50.5,350.5 L52.5,351.5 L54.5,352.4 L56.5,353.4 L58.5,354.4 L60.5,355.5 L62.6,356.5 L64.6,357.5 L66.6,358.5 L68.6,359.5 L70.6,360.4 L72.6,361.2 L74.6,362.0 L76.6,362.7 L78.6,363.3 L80.6,364.0 L82.6,364.5 L84.6,365.0 L86.6,365.4 L88.6,365.8 L90.6,366.1 L92.6,366.4 L94.6,366.7 L96.7,366.9 L98.7,367.1 L100.7,367.2 L102.7,367.4 L104.7,367.4 L106.7,367.4 L108.7,367.4 L110.7,367.3 L112.7,367.3 L114.7,367.2 L116.7,367.1 L118.7,366.9 L120.7,366.8 L122.7,366.6 L124.7,366.3 L126.7,366.1 L128.8,366.0 L130.8,365.8 L132.8,365.7 L134.8,365.5 L136.8,365.4 L138.8,365.3 L140.8,365.2 L142.8,365.1 L144.8,365.0 L146.8,364.9 L148.8,364.8 L150.8,364.8 L152.8,364.7 L154.8,364.7 L156.8,364.6 L158.8,364.6 L160.8,364.5 L162.9,364.5 L164.9,364.5 L166.9,364.5 L168.9,364.5 L170.9,364.5 L172.9,364.4 L174.9,364.4 L176.9,364.4 L178.9,364.4 L180.9,364.4 L182.9,364.4 L184.9,364.4 L186.9,364.4 L188.9,364.4 L190.9,364.3 L192.9,364.3 L194.9,364.3 L197.0,364.3 L199.0,364.3 L201.0,364.3 L203.0,364.3 L205.0,364.3 L207.0,364.3 L209.0,364.3 L211.0,364.2 L213.0,364.2 L215.0,364.2 L217.0,364.2 L219.0,364.2 L221.0,364.2 L223.0,364.2 L225.0,364.2 L227.0,364.2 L229.1,364.2 L231.1,364.1 L233.1,364.1 L235.1,364.1 L237.1,364.1 L239.1,364.1 L241.1,364.1 L243.1,364.1 L245.1,364.1 L247.1,364.1 L249.1,364.1 L251.1,364.1 L253.1,364.0 L255.1,364.0 L257.1,364.0 L259.1,364.0 L261.1,364.0 L263.2,364.0 L265.2,364.0 L267.2,364.0 L269.2,364.0 L271.2,364.0 L273.2,364.0 L275.2,364.0 L277.2,364.0 L279.2,364.0 L281.2,364.0 L283.2,364.0 L285.2,364.0 L287.2,364.0 L289.2,364.0 L291.2,364.0 L293.2,364.0 L295.2,364.0 L297.3,364.0 L299.3,364.0 L301.3,364.0 L303.3,364.0 L305.3,364.0 L307.3,364.0 L309.3,364.0 L311.3,364.1 L313.3,364.1 L315.3,364.1 L317.3,364.1 L319.3,364.1 L321.3,364.1 L323.3,364.1 L325.3,364.1 L327.3,364.1 L329.4,364.1 L331.4,364.1 L333.4,364.1 L335.4,364.1 L337.4,364.1 L339.4,364.1 L341.4,364.1 L343.4,364.0 L345.4,363.9 L347.4,363.8 L349.4,363.8 L351.4,363.7 L353.4,363.6 L355.4,363.5 L357.4,363.5 L359.4,363.4 L361.4,363.4 L363.5,363.4 L365.5,363.4 L367.5,363.5 L369.5,363.5 L371.5,363.5 L373.5,363.6 L375.5,363.7 L377.5,363.8 L379.5,363.9" stroke="#000"/>
<path d="M46.5,348.5 L48.5,349.5 L50.5,350.5 L52.5,351.5 L54.5,352.4 L56.5,353.4 L58.5,354.4 L60.5,355.5 L62.6,356.5 L64.6,357.5 L66.6,358.5 L68.6,359.5 L70.6,360.4 L72.6,361.2 L74.6,362.0 L76.6,362.7 L78.6,363.3 L80.6,364.0 L82.6,364.5 L84.6,365.0 L86.6,365.4 L88.6,365.8 L90.6,366.1 L92.6,366.4 L94.6,366.7 L96.7,366.9 L98.7,367.1 L100.7,367.2 L102.7,367.4 L104.7,367.4 L106.7,367.4 L108.7,367.4 L110.7,367.3 L112.7,367.3 L114.7,367.2 L116.7,367.1 L118.7,366.9 L120.7,366.8 L122.7,366.6 L124.7,366.4 L126.7,366.2 L128.8,366.1 L130.8,365.9 L132.8,365.8 L134.8,365.7 L136.8,365.6 L138.8,365.5 L140.8,365.4 L142.8,365.3 L144.8,365.2 L146.8,365.2 L148.8,365.1 L150.8,365.1 L152.8,365.1 L154.8,365.0 L156.8,365.0 L158.8,365.0 L160.8,365.0 L162.9,364.9 L164.9,364.9 L166.9,364.9 L168.9,364.9 L170.9,364.8 L172.9,364.8 L174.9,364.8 L176.9,364.7 L178.9,364.7 L180.9,364.7 L182.9,364.6 L184.9,364.6 L186.9,364.6 L188.9,364.6 L190.9,364.5 L192.9,364.5 L194.9,364.5 L197.0,364.5 L199.0,364.5 L201.0,364.5 L203.0,364.5 L205.0,364.5 L207.0,364.5 L209.0,364.5 L211.0,364.5 L213.0,364.5 L215.0,364.5 L217.0,364.5 L219.0,364.5 L221.0,364.5 L223.0,364.5 L225.0,364.5 L227.0,364.5 L229.1,364.5 L231.1,364.5 L233.1,364.5 L235.1,364.5 L237.1,364.5 L239.1,364.5 L241.1,364.5 L243.1,364.5 L245.1,364.5 L247.1,364.5 L249.1,364.5 L251.1,364.5 L253.1,364.5 L255.1,364.5 L257.1,364.5 L259.1,364.5 L261.1,364.5 L263.2,364.5 L265.2,364.5 L267.2,364.5 L269.2,364.5 L271.2,364.5 L273.2,364.6 L275.2,364.6 L277.2,364.6 L279.2,364.6 L281.2,364.6 L283.2,364.7 L285.2,364.7 L287.2,364.7 L289.2,364.7 L291.2,364.8 L293.2,364.8 L295.2,364.8 L297.3,364.9 L299.3,364.9 L301.3,364.9 L303.3,365.0 L305.3,365.0 L307.3,365.1 L309.3,365.1 L311.3,365.2 L313.3,365.3 L315.3,365.3 L317.3,365.4 L319.3,365.4 L321.3,365.4 L323.3,365.4 L325.3,365.5 L327.3,365.5 L329.4,365.5 L331.4,365.5 L333.4,365.5 L335.4,365.5 L337.4,365.5 L339.4,365.4 L341.4,365.4 L343.4,365.3 L345.4,365.3 L347.4,365.2 L349.4,365.1 L351.4,365.0 L353.4,364.8 L355.4,364.7 L357.4,364.7 L359.4,364.6 L361.4,364.6 L363.5,364.6 L365.5,364.5 L367.5,364.5 L369.5,364.5 L371.5,364.4 L373.5,364.4 L375.5,364.4 L377.5,364.4 L379.5,364.4" stroke="#0000ff" stroke-dasharray="2.8 2.6"/>
<path d="M46.03,364.00H380.4" stroke="#ff8000" stroke-width="1.9"/>
</g>
</g>
<g>
<clipPath id="c3"><rect x="473.83" y="290.4" width="341.3" height="210.29"/></clipPath>
<g stroke="#666" fill="none">
<path stroke-width="0.85" d="M474.53,290.43V500.60"/>
<path stroke-width="0.95" d="M474.11,500.15H813.83"/>
<path stroke-width="0.9" stroke="#5c5c5c" d="M505.15,500.15v-3.9M565.58,500.15v-3.9M626.01,500.15v-3.9M686.44,500.15v-3.9M746.87,500.15v-3.9M807.30,500.15v-3.9M474.53,453.64h3.9M474.53,407.01h3.9M474.53,360.38h3.9M474.53,313.75h3.9"/>
<path stroke-width="0.6" d="M480.98,500.15v-2.3M493.06,500.15v-2.3M517.24,500.15v-2.3M529.32,500.15v-2.3M541.41,500.15v-2.3M553.49,500.15v-2.3M577.67,500.15v-2.3M589.75,500.15v-2.3M601.84,500.15v-2.3M613.92,500.15v-2.3M638.10,500.15v-2.3M650.18,500.15v-2.3M662.27,500.15v-2.3M674.35,500.15v-2.3M698.53,500.15v-2.3M710.61,500.15v-2.3M722.70,500.15v-2.3M734.78,500.15v-2.3M758.96,500.15v-2.3M771.04,500.15v-2.3M783.13,500.15v-2.3M795.21,500.15v-2.3M474.53,490.94h2.3M474.53,481.62h2.3M474.53,472.29h2.3M474.53,462.97h2.3M474.53,444.31h2.3M474.53,434.99h2.3M474.53,425.66h2.3M474.53,416.34h2.3M474.53,397.68h2.3M474.53,388.36h2.3M474.53,379.03h2.3M474.53,369.71h2.3M474.53,351.05h2.3M474.53,341.73h2.3M474.53,332.40h2.3M474.53,323.08h2.3M474.53,304.42h2.3M474.53,295.10h2.3"/>
</g>
<g class="tl">
<text transform="translate(502.17,520.65) scale(1,1.055)">0</text>
<path transform="translate(554.81,520.65) scale(0.009277,-0.009788)" d="M763 0H583V1147Q518 1085 412.5 1023T223 930V1104Q374 1175 487 1276T647 1472H763Z" fill="#000" stroke="#000" stroke-width="21.6"/><text transform="translate(565.38,520.65) scale(1,1.055)">0</text>
<text transform="translate(615.24,520.65) scale(1,1.055)">20</text>
<text transform="translate(675.67,520.65) scale(1,1.055)">30</text>
<text transform="translate(736.10,520.65) scale(1,1.055)">40</text>
<text transform="translate(796.53,520.65) scale(1,1.055)">50</text>
<text transform="translate(445.22,507.07) scale(1,1.055)">0.4</text>
<text transform="translate(445.22,460.44) scale(1,1.055)">0.5</text>
<text transform="translate(445.22,413.81) scale(1,1.055)">0.6</text>
<text transform="translate(445.22,367.18) scale(1,1.055)">0.7</text>
<text transform="translate(445.22,320.55) scale(1,1.055)">0.8</text>
</g>
<text class="al" transform="translate(644.18,534.90) scale(1,1.03)" text-anchor="middle"><tspan font-style="italic">t</tspan><tspan class="sub" dy="2.5" font-style="italic">i</tspan><tspan dy="-2.5">&#8722;</tspan><tspan font-style="italic">t</tspan><tspan class="sub" dy="2.5">peak</tspan><tspan dy="-2.5" dx="1.3">[</tspan><tspan font-style="italic">M</tspan>]</text>
<text class="nl" transform="translate(525.24,485.95) scale(1,1.03)">N=3</text>
<g clip-path="url(#c3)" fill="none" stroke-width="1.75" stroke-linejoin="round">
<path d="M474.5,368.4 L476.5,370.1 L478.5,371.7 L480.5,373.3 L482.5,374.8 L484.5,376.4 L486.5,377.9 L488.5,379.4 L490.5,380.9 L492.5,382.3 L494.6,383.8 L496.6,385.2 L498.6,386.7 L500.6,388.1 L502.6,389.5 L504.6,390.9 L506.6,392.3 L508.6,393.7 L510.6,395.1 L512.6,396.5 L514.6,397.9 L516.6,399.3 L518.6,400.7 L520.6,402.1 L522.6,403.5 L524.6,405.0 L526.6,406.4 L528.6,407.9 L530.6,409.4 L532.6,410.8 L534.6,412.3 L536.7,413.8 L538.7,415.3 L540.7,416.8 L542.7,418.3 L544.7,419.8 L546.7,421.2 L548.7,422.7 L550.7,424.1 L552.7,425.5 L554.7,426.9 L556.7,428.2 L558.7,429.6 L560.7,430.9 L562.7,432.2 L564.7,433.4 L566.7,434.6 L568.7,435.8 L570.7,436.9 L572.7,438.0 L574.7,439.1 L576.7,440.1 L578.8,441.1 L580.8,442.0 L582.8,443.0 L584.8,443.9 L586.8,444.7 L588.8,445.5 L590.8,446.3 L592.8,447.1 L594.8,447.9 L596.8,448.6 L598.8,449.2 L600.8,449.9 L602.8,450.5 L604.8,451.1 L606.8,451.7 L608.8,452.2 L610.8,452.7 L612.8,453.2 L614.8,453.7 L616.8,454.1 L618.9,454.5 L620.9,454.9 L622.9,455.2 L624.9,455.6 L626.9,455.9 L628.9,456.2 L630.9,456.5 L632.9,456.7 L634.9,456.9 L636.9,457.1 L638.9,457.3 L640.9,457.5 L642.9,457.6 L644.9,457.7 L646.9,457.8 L648.9,457.9 L650.9,458.0 L652.9,458.0 L654.9,458.1 L656.9,458.1 L658.9,458.1 L661.0,458.1 L663.0,458.1 L665.0,458.1 L667.0,458.0 L669.0,458.0 L671.0,457.9 L673.0,457.9 L675.0,457.8 L677.0,457.8 L679.0,457.7 L681.0,457.7 L683.0,457.6 L685.0,457.5 L687.0,457.5 L689.0,457.4 L691.0,457.4 L693.0,457.3 L695.0,457.3 L697.0,457.2 L699.0,457.2 L701.0,457.2 L703.1,457.1 L705.1,457.1 L707.1,457.1 L709.1,457.2 L711.1,457.2 L713.1,457.2 L715.1,457.3 L717.1,457.4 L719.1,457.5 L721.1,457.6 L723.1,457.7 L725.1,457.9 L727.1,458.0 L729.1,458.2 L731.1,458.4 L733.1,458.6 L735.1,458.8 L737.1,459.1 L739.1,459.3 L741.1,459.6 L743.1,459.9 L745.2,460.1 L747.2,460.4 L749.2,460.7 L751.2,460.9 L753.2,461.2 L755.2,461.5 L757.2,461.8 L759.2,462.0 L761.2,462.3 L763.2,462.6 L765.2,462.8 L767.2,463.1 L769.2,463.3 L771.2,463.5 L773.2,463.7 L775.2,463.9 L777.2,464.1 L779.2,464.3 L781.2,464.5 L783.2,464.7 L785.2,464.9 L787.3,465.1 L789.3,465.3 L791.3,465.5 L793.3,465.7 L795.3,466.0 L797.3,466.2 L799.3,466.5 L801.3,466.8 L803.3,467.2 L805.3,467.5 L807.3,467.9" stroke="#ff0000" stroke-dasharray="5.2 2.45"/>
<path d="M474.5,355.7 L476.5,356.8 L478.5,357.8 L480.5,358.8 L482.5,359.7 L484.5,360.5 L486.5,361.3 L488.5,362.0 L490.6,362.6 L492.6,363.2 L494.6,363.7 L496.6,364.2 L498.6,364.6 L500.6,365.0 L502.6,365.3 L504.6,365.6 L506.6,365.9 L508.6,366.1 L510.6,366.2 L512.6,366.4 L514.6,366.5 L516.6,366.5 L518.6,366.6 L520.6,366.6 L522.6,366.5 L524.7,366.5 L526.7,366.4 L528.7,366.3 L530.7,366.2 L532.7,366.0 L534.7,365.9 L536.7,365.8 L538.7,365.6 L540.7,365.5 L542.7,365.4 L544.7,365.4 L546.7,365.3 L548.7,365.2 L550.7,365.1 L552.7,365.0 L554.7,365.0 L556.8,364.9 L558.8,364.9 L560.8,364.8 L562.8,364.8 L564.8,364.8 L566.8,364.7 L568.8,364.7 L570.8,364.7 L572.8,364.6 L574.8,364.6 L576.8,364.6 L578.8,364.6 L580.8,364.5 L582.8,364.5 L584.8,364.5 L586.8,364.5 L588.8,364.5 L590.9,364.5 L592.9,364.4 L594.9,364.4 L596.9,364.4 L598.9,364.4 L600.9,364.4 L602.9,364.4 L604.9,364.4 L606.9,364.3 L608.9,364.3 L610.9,364.3 L612.9,364.3 L614.9,364.3 L616.9,364.3 L618.9,364.3 L620.9,364.3 L622.9,364.2 L625.0,364.2 L627.0,364.2 L629.0,364.2 L631.0,364.2 L633.0,364.2 L635.0,364.2 L637.0,364.2 L639.0,364.2 L641.0,364.2 L643.0,364.2 L645.0,364.2 L647.0,364.2 L649.0,364.2 L651.0,364.2 L653.0,364.2 L655.0,364.2 L657.1,364.2 L659.1,364.2 L661.1,364.2 L663.1,364.2 L665.1,364.2 L667.1,364.2 L669.1,364.2 L671.1,364.2 L673.1,364.2 L675.1,364.2 L677.1,364.2 L679.1,364.2 L681.1,364.2 L683.1,364.2 L685.1,364.2 L687.1,364.2 L689.1,364.2 L691.2,364.2 L693.2,364.2 L695.2,364.2 L697.2,364.2 L699.2,364.2 L701.2,364.2 L703.2,364.2 L705.2,364.2 L707.2,364.2 L709.2,364.2 L711.2,364.2 L713.2,364.2 L715.2,364.2 L717.2,364.2 L719.2,364.2 L721.2,364.2 L723.2,364.2 L725.3,364.2 L727.3,364.2 L729.3,364.2 L731.3,364.2 L733.3,364.2 L735.3,364.2 L737.3,364.2 L739.3,364.2 L741.3,364.2 L743.3,364.2 L745.3,364.2 L747.3,364.2 L749.3,364.2 L751.3,364.2 L753.3,364.2 L755.3,364.2 L757.4,364.2 L759.4,364.2 L761.4,364.2 L763.4,364.1 L765.4,363.9 L767.4,363.8 L769.4,363.7 L771.4,363.6 L773.4,363.5 L775.4,363.5 L777.4,363.5 L779.4,363.5 L781.4,363.6 L783.4,363.7 L785.4,363.8 L787.4,363.9 L789.4,364.1 L791.5,364.3 L793.5,364.4 L795.5,364.7 L797.5,364.9 L799.5,365.1 L801.5,365.3 L803.5,365.5 L805.5,365.7 L807.5,365.8" stroke="#000"/>
<path d="M474.5,355.7 L476.5,356.8 L478.5,357.8 L480.5,358.8 L482.5,359.7 L484.5,360.5 L486.5,361.3 L488.5,362.0 L490.6,362.6 L492.6,363.2 L494.6,363.7 L496.6,364.2 L498.6,364.6 L500.6,365.0 L502.6,365.3 L504.6,365.6 L506.6,365.9 L508.6,366.1 L510.6,366.2 L512.6,366.4 L514.6,366.5 L516.6,366.6 L518.6,366.6 L520.6,366.6 L522.6,366.6 L524.7,366.6 L526.7,366.6 L528.7,366.5 L530.7,366.4 L532.7,366.2 L534.7,366.1 L536.7,366.0 L538.7,365.9 L540.7,365.8 L542.7,365.8 L544.7,365.7 L546.7,365.6 L548.7,365.6 L550.7,365.5 L552.7,365.5 L554.7,365.4 L556.8,365.4 L558.8,365.4 L560.8,365.3 L562.8,365.3 L564.8,365.3 L566.8,365.3 L568.8,365.3 L570.8,365.3 L572.8,365.3 L574.8,365.3 L576.8,365.3 L578.8,365.3 L580.8,365.3 L582.8,365.3 L584.8,365.3 L586.8,365.3 L588.8,365.3 L590.9,365.3 L592.9,365.3 L594.9,365.3 L596.9,365.2 L598.9,365.2 L600.9,365.2 L602.9,365.2 L604.9,365.2 L606.9,365.2 L608.9,365.1 L610.9,365.1 L612.9,365.1 L614.9,365.1 L616.9,365.1 L618.9,365.0 L620.9,365.0 L622.9,365.0 L625.0,365.0 L627.0,365.0 L629.0,364.9 L631.0,364.9 L633.0,364.9 L635.0,364.9 L637.0,364.9 L639.0,364.9 L641.0,364.9 L643.0,364.9 L645.0,364.9 L647.0,364.9 L649.0,364.9 L651.0,364.9 L653.0,364.9 L655.0,364.9 L657.1,364.9 L659.1,364.9 L661.1,364.9 L663.1,364.9 L665.1,364.9 L667.1,364.9 L669.1,364.9 L671.1,364.9 L673.1,364.9 L675.1,364.9 L677.1,364.9 L679.1,364.9 L681.1,364.9 L683.1,364.9 L685.1,365.0 L687.1,365.0 L689.1,365.0 L691.2,365.0 L693.2,365.0 L695.2,365.0 L697.2,365.0 L699.2,365.0 L701.2,365.0 L703.2,365.0 L705.2,365.1 L707.2,365.1 L709.2,365.2 L711.2,365.2 L713.2,365.3 L715.2,365.3 L717.2,365.3 L719.2,365.4 L721.2,365.4 L723.2,365.5 L725.3,365.5 L727.3,365.5 L729.3,365.6 L731.3,365.6 L733.3,365.6 L735.3,365.6 L737.3,365.6 L739.3,365.6 L741.3,365.6 L743.3,365.6 L745.3,365.6 L747.3,365.6 L749.3,365.5 L751.3,365.5 L753.3,365.4 L755.3,365.4 L757.4,365.3 L759.4,365.2 L761.4,365.1 L763.4,365.0 L765.4,365.0 L767.4,364.9 L769.4,364.9 L771.4,364.9 L773.4,364.9 L775.4,364.9 L777.4,364.9 L779.4,364.9 L781.4,364.9 L783.4,364.9 L785.4,364.9 L787.4,364.9 L789.4,364.9 L791.5,364.9 L793.5,365.0 L795.5,365.1 L797.5,365.2 L799.5,365.4 L801.5,365.5 L803.5,365.6 L805.5,365.8 L807.5,365.9" stroke="#0000ff" stroke-dasharray="2.7 2.15"/>
<path d="M473.83,364.00H808.2" stroke="#ff8000" stroke-width="1.9"/>
</g>
</g>
<g>
<clipPath id="c4"><rect x="46.03" y="558.3" width="341.3" height="210.29"/></clipPath>
<g stroke="#666" fill="none">
<path stroke-width="0.85" d="M46.73,558.30V768.45"/>
<path stroke-width="0.95" d="M46.31,768.00H386.03"/>
<path stroke-width="0.9" stroke="#5c5c5c" d="M77.35,768.00v-3.9M137.78,768.00v-3.9M198.21,768.00v-3.9M258.64,768.00v-3.9M319.07,768.00v-3.9M379.50,768.00v-3.9M46.73,721.51h3.9M46.73,674.88h3.9M46.73,628.25h3.9M46.73,581.62h3.9"/>
<path stroke-width="0.6" d="M53.18,768.00v-2.3M65.26,768.00v-2.3M89.44,768.00v-2.3M101.52,768.00v-2.3M113.61,768.00v-2.3M125.69,768.00v-2.3M149.87,768.00v-2.3M161.95,768.00v-2.3M174.04,768.00v-2.3M186.12,768.00v-2.3M210.30,768.00v-2.3M222.38,768.00v-2.3M234.47,768.00v-2.3M246.55,768.00v-2.3M270.73,768.00v-2.3M282.81,768.00v-2.3M294.90,768.00v-2.3M306.98,768.00v-2.3M331.16,768.00v-2.3M343.24,768.00v-2.3M355.33,768.00v-2.3M367.41,768.00v-2.3M46.73,758.81h2.3M46.73,749.49h2.3M46.73,740.16h2.3M46.73,730.84h2.3M46.73,712.18h2.3M46.73,702.86h2.3M46.73,693.53h2.3M46.73,684.21h2.3M46.73,665.55h2.3M46.73,656.23h2.3M46.73,646.90h2.3M46.73,637.58h2.3M46.73,618.92h2.3M46.73,609.60h2.3M46.73,600.27h2.3M46.73,590.95h2.3M46.73,572.29h2.3M46.73,562.97h2.3"/>
</g>
<g class="tl">
<text transform="translate(74.37,788.50) scale(1,1.055)">0</text>
<path transform="translate(127.01,788.50) scale(0.009277,-0.009788)" d="M763 0H583V1147Q518 1085 412.5 1023T223 930V1104Q374 1175 487 1276T647 1472H763Z" fill="#000" stroke="#000" stroke-width="21.6"/><text transform="translate(137.58,788.50) scale(1,1.055)">0</text>
<text transform="translate(187.44,788.50) scale(1,1.055)">20</text>
<text transform="translate(247.87,788.50) scale(1,1.055)">30</text>
<text transform="translate(308.30,788.50) scale(1,1.055)">40</text>
<text transform="translate(368.73,788.50) scale(1,1.055)">50</text>
<text transform="translate(17.42,774.94) scale(1,1.055)">0.4</text>
<text transform="translate(17.42,728.31) scale(1,1.055)">0.5</text>
<text transform="translate(17.42,681.68) scale(1,1.055)">0.6</text>
<text transform="translate(17.42,635.05) scale(1,1.055)">0.7</text>
<text transform="translate(17.42,588.42) scale(1,1.055)">0.8</text>
</g>
<text class="al" transform="translate(216.38,802.75) scale(1,1.03)" text-anchor="middle"><tspan font-style="italic">t</tspan><tspan class="sub" dy="2.5" font-style="italic">i</tspan><tspan dy="-2.5">&#8722;</tspan><tspan font-style="italic">t</tspan><tspan class="sub" dy="2.5">peak</tspan><tspan dy="-2.5" dx="1.3">[</tspan><tspan font-style="italic">M</tspan>]</text>
<text class="nl" transform="translate(97.44,753.80) scale(1,1.03)">N=4</text>
<g clip-path="url(#c4)" fill="none" stroke-width="1.75" stroke-linejoin="round">
<path d="M46.7,645.2 L48.8,646.9 L50.8,648.5 L52.8,650.2 L54.8,651.9 L56.8,653.6 L58.8,655.3 L60.8,657.1 L62.8,658.8 L64.8,660.5 L66.8,662.3 L68.8,664.0 L70.8,665.8 L72.8,667.5 L74.8,669.3 L76.8,671.0 L78.8,672.8 L80.8,674.5 L82.8,676.3 L84.8,678.0 L86.9,679.7 L88.9,681.5 L90.9,683.2 L92.9,684.9 L94.9,686.6 L96.9,688.3 L98.9,690.0 L100.9,691.7 L102.9,693.4 L104.9,695.0 L106.9,696.6 L108.9,698.2 L110.9,699.8 L112.9,701.4 L114.9,703.0 L116.9,704.5 L118.9,706.0 L120.9,707.5 L122.9,709.0 L125.0,710.5 L127.0,711.9 L129.0,713.3 L131.0,714.6 L133.0,716.0 L135.0,717.3 L137.0,718.6 L139.0,719.8 L141.0,721.0 L143.0,722.2 L145.0,723.4 L147.0,724.5 L149.0,725.6 L151.0,726.6 L153.0,727.6 L155.0,728.6 L157.0,729.5 L159.0,730.4 L161.1,731.3 L163.1,732.2 L165.1,733.0 L167.1,733.8 L169.1,734.6 L171.1,735.3 L173.1,736.0 L175.1,736.7 L177.1,737.3 L179.1,737.9 L181.1,738.5 L183.1,739.0 L185.1,739.6 L187.1,740.0 L189.1,740.5 L191.1,740.9 L193.1,741.3 L195.1,741.6 L197.1,741.9 L199.2,742.2 L201.2,742.5 L203.2,742.7 L205.2,742.9 L207.2,743.0 L209.2,743.2 L211.2,743.3 L213.2,743.4 L215.2,743.5 L217.2,743.6 L219.2,743.6 L221.2,743.6 L223.2,743.7 L225.2,743.7 L227.2,743.7 L229.2,743.6 L231.2,743.6 L233.2,743.6 L235.2,743.6 L237.3,743.5 L239.3,743.5 L241.3,743.4 L243.3,743.4 L245.3,743.3 L247.3,743.3 L249.3,743.3 L251.3,743.2 L253.3,743.2 L255.3,743.2 L257.3,743.2 L259.3,743.1 L261.3,743.1 L263.3,743.1 L265.3,743.1 L267.3,743.2 L269.3,743.2 L271.3,743.2 L273.3,743.3 L275.4,743.3 L277.4,743.4 L279.4,743.5 L281.4,743.6 L283.4,743.7 L285.4,743.8 L287.4,744.0 L289.4,744.1 L291.4,744.3 L293.4,744.5 L295.4,744.7 L297.4,744.9 L299.4,745.2 L301.4,745.4 L303.4,745.6 L305.4,745.9 L307.4,746.1 L309.4,746.4 L311.5,746.6 L313.5,746.8 L315.5,747.0 L317.5,747.3 L319.5,747.4 L321.5,747.6 L323.5,747.8 L325.5,748.0 L327.5,748.1 L329.5,748.3 L331.5,748.5 L333.5,748.6 L335.5,748.8 L337.5,748.9 L339.5,749.1 L341.5,749.3 L343.5,749.5 L345.5,749.7 L347.5,749.9 L349.6,750.1 L351.6,750.3 L353.6,750.5 L355.6,750.8 L357.6,751.1 L359.6,751.4 L361.6,751.7 L363.6,752.0 L365.6,752.4 L367.6,752.8 L369.6,753.2 L371.6,753.7 L373.6,754.2 L375.6,754.7 L377.6,755.2 L379.6,755.8" stroke="#ff0000" stroke-dasharray="5.2 2.45"/>
<path d="M46.5,627.5 L48.5,628.1 L50.5,628.7 L52.5,629.3 L54.5,629.8 L56.5,630.4 L58.5,630.8 L60.5,631.3 L62.5,631.7 L64.5,632.2 L66.5,632.6 L68.5,632.9 L70.5,633.2 L72.5,633.5 L74.5,633.6 L76.5,633.7 L78.5,633.8 L80.5,633.9 L82.5,633.9 L84.4,633.9 L86.4,633.8 L88.4,633.8 L90.4,633.7 L92.4,633.6 L94.4,633.6 L96.4,633.5 L98.4,633.4 L100.4,633.4 L102.4,633.3 L104.4,633.2 L106.4,633.2 L108.4,633.1 L110.4,633.1 L112.4,633.0 L114.4,633.0 L116.4,632.9 L118.4,632.9 L120.4,632.9 L122.4,632.8 L124.4,632.8 L126.4,632.8 L128.4,632.7 L130.4,632.7 L132.4,632.7 L134.4,632.7 L136.4,632.6 L138.4,632.6 L140.4,632.6 L142.4,632.6 L144.4,632.5 L146.4,632.5 L148.4,632.5 L150.3,632.5 L152.3,632.5 L154.3,632.5 L156.3,632.4 L158.3,632.4 L160.3,632.4 L162.3,632.4 L164.3,632.4 L166.3,632.4 L168.3,632.4 L170.3,632.4 L172.3,632.4 L174.3,632.4 L176.3,632.4 L178.3,632.4 L180.3,632.4 L182.3,632.4 L184.3,632.4 L186.3,632.4 L188.3,632.4 L190.3,632.4 L192.3,632.4 L194.3,632.4 L196.3,632.4 L198.3,632.4 L200.3,632.4 L202.3,632.4 L204.3,632.4 L206.3,632.4 L208.3,632.4 L210.3,632.4 L212.3,632.4 L214.3,632.4 L216.2,632.4 L218.2,632.4 L220.2,632.4 L222.2,632.4 L224.2,632.4 L226.2,632.4 L228.2,632.4 L230.2,632.4 L232.2,632.4 L234.2,632.4 L236.2,632.4 L238.2,632.4 L240.2,632.4 L242.2,632.4 L244.2,632.4 L246.2,632.4 L248.2,632.4 L250.2,632.4 L252.2,632.4 L254.2,632.4 L256.2,632.4 L258.2,632.4 L260.2,632.4 L262.2,632.4 L264.2,632.4 L266.2,632.4 L268.2,632.4 L270.2,632.4 L272.2,632.4 L274.2,632.4 L276.2,632.4 L278.2,632.4 L280.2,632.4 L282.1,632.4 L284.1,632.4 L286.1,632.4 L288.1,632.4 L290.1,632.4 L292.1,632.4 L294.1,632.4 L296.1,632.4 L298.1,632.3 L300.1,632.3 L302.1,632.3 L304.1,632.3 L306.1,632.3 L308.1,632.2 L310.1,632.1 L312.1,632.0 L314.1,631.9 L316.1,631.8 L318.1,631.7 L320.1,631.6 L322.1,631.6 L324.1,631.5 L326.1,631.5 L328.1,631.4 L330.1,631.4 L332.1,631.4 L334.1,631.4 L336.1,631.5 L338.1,631.5 L340.1,631.6 L342.1,631.7 L344.1,631.8 L346.1,631.9 L348.0,632.0 L350.0,632.2 L352.0,632.4 L354.0,632.5 L356.0,632.7 L358.0,632.9 L360.0,633.0 L362.0,633.1 L364.0,633.3 L366.0,633.4 L368.0,633.5 L370.0,633.6 L372.0,633.6 L374.0,633.6 L376.0,633.4 L378.0,633.2 L380.0,633.0" stroke="#000"/>
<path d="M46.5,627.5 L48.5,628.1 L50.5,628.7 L52.5,629.3 L54.5,629.8 L56.5,630.4 L58.5,630.8 L60.5,631.3 L62.5,631.7 L64.5,632.2 L66.5,632.6 L68.5,633.0 L70.5,633.2 L72.5,633.5 L74.5,633.7 L76.5,633.8 L78.5,633.9 L80.5,634.0 L82.5,634.0 L84.5,634.0 L86.5,634.0 L88.5,634.0 L90.5,633.9 L92.5,633.9 L94.5,633.8 L96.5,633.8 L98.5,633.7 L100.5,633.7 L102.5,633.7 L104.5,633.6 L106.5,633.6 L108.5,633.6 L110.5,633.6 L112.5,633.6 L114.5,633.6 L116.5,633.6 L118.5,633.6 L120.5,633.6 L122.5,633.6 L124.5,633.6 L126.5,633.6 L128.5,633.6 L130.5,633.6 L132.5,633.6 L134.5,633.6 L136.5,633.6 L138.5,633.6 L140.5,633.6 L142.5,633.6 L144.5,633.6 L146.5,633.6 L148.5,633.6 L150.5,633.6 L152.5,633.6 L154.5,633.6 L156.5,633.6 L158.5,633.7 L160.5,633.7 L162.5,633.7 L164.5,633.7 L166.5,633.7 L168.5,633.7 L170.5,633.7 L172.5,633.8 L174.5,633.8 L176.5,633.8 L178.5,633.8 L180.5,633.8 L182.5,633.9 L184.5,633.9 L186.5,633.9 L188.5,633.9 L190.5,633.9 L192.5,633.9 L194.5,634.0 L196.5,634.0 L198.5,634.0 L200.5,634.0 L202.5,634.0 L204.5,634.0 L206.5,634.0 L208.5,634.0 L210.5,634.1 L212.5,634.1 L214.5,634.1 L216.5,634.1 L218.5,634.1 L220.5,634.1 L222.5,634.1 L224.5,634.1 L226.5,634.1 L228.5,634.1 L230.5,634.1 L232.5,634.2 L234.5,634.2 L236.5,634.2 L238.5,634.2 L240.5,634.2 L242.5,634.2 L244.5,634.2 L246.5,634.2 L248.5,634.2 L250.5,634.2 L252.5,634.2 L254.5,634.2 L256.5,634.2 L258.5,634.2 L260.5,634.2 L262.5,634.3 L264.5,634.3 L266.5,634.3 L268.5,634.3 L270.5,634.3 L272.5,634.3 L274.5,634.3 L276.5,634.3 L278.5,634.3 L280.5,634.3 L282.5,634.3 L284.5,634.3 L286.5,634.3 L288.5,634.3 L290.5,634.3 L292.5,634.3 L294.5,634.3 L296.5,634.3 L298.5,634.3 L300.5,634.3 L302.5,634.3 L304.5,634.3 L306.5,634.3 L308.5,634.3 L310.5,634.4 L312.5,634.4 L314.5,634.4 L316.5,634.4 L318.5,634.4 L320.5,634.4 L322.5,634.4 L324.5,634.4 L326.5,634.4 L328.5,634.4 L330.5,634.4 L332.5,634.4 L334.5,634.4 L336.5,634.4 L338.5,634.5 L340.5,634.5 L342.5,634.5 L344.5,634.5 L346.5,634.5 L348.5,634.6 L350.5,634.6 L352.5,634.7 L354.5,634.7 L356.5,634.8 L358.5,634.9 L360.5,635.0 L362.5,635.1 L364.5,635.1 L366.5,635.1 L368.5,635.1 L370.5,635.1 L372.5,635.0 L374.5,635.0 L376.5,634.8 L378.5,634.5 L380.5,634.2" stroke="#0000ff" stroke-dasharray="2.7 2.1"/>
<path d="M46.03,631.98H380.4" stroke="#ff8000" stroke-width="1.9"/>
</g>
</g>
<g>
<clipPath id="c5"><rect x="473.83" y="558.3" width="341.3" height="210.29"/></clipPath>
<g stroke="#666" fill="none">
<path stroke-width="0.85" d="M474.53,558.30V768.45"/>
<path stroke-width="0.95" d="M474.11,768.00H813.83"/>
<path stroke-width="0.9" stroke="#5c5c5c" d="M505.15,768.00v-3.9M565.58,768.00v-3.9M626.01,768.00v-3.9M686.44,768.00v-3.9M746.87,768.00v-3.9M807.30,768.00v-3.9M474.53,721.51h3.9M474.53,674.88h3.9M474.53,628.25h3.9M474.53,581.62h3.9"/>
<path stroke-width="0.6" d="M480.98,768.00v-2.3M493.06,768.00v-2.3M517.24,768.00v-2.3M529.32,768.00v-2.3M541.41,768.00v-2.3M553.49,768.00v-2.3M577.67,768.00v-2.3M589.75,768.00v-2.3M601.84,768.00v-2.3M613.92,768.00v-2.3M638.10,768.00v-2.3M650.18,768.00v-2.3M662.27,768.00v-2.3M674.35,768.00v-2.3M698.53,768.00v-2.3M710.61,768.00v-2.3M722.70,768.00v-2.3M734.78,768.00v-2.3M758.96,768.00v-2.3M771.04,768.00v-2.3M783.13,768.00v-2.3M795.21,768.00v-2.3M474.53,758.81h2.3M474.53,749.49h2.3M474.53,740.16h2.3M474.53,730.84h2.3M474.53,712.18h2.3M474.53,702.86h2.3M474.53,693.53h2.3M474.53,684.21h2.3M474.53,665.55h2.3M474.53,656.23h2.3M474.53,646.90h2.3M474.53,637.58h2.3M474.53,618.92h2.3M474.53,609.60h2.3M474.53,600.27h2.3M474.53,590.95h2.3M474.53,572.29h2.3M474.53,562.97h2.3"/>
</g>
<g class="tl">
<text transform="translate(502.17,788.50) scale(1,1.055)">0</text>
<path transform="translate(554.81,788.50) scale(0.009277,-0.009788)" d="M763 0H583V1147Q518 1085 412.5 1023T223 930V1104Q374 1175 487 1276T647 1472H763Z" fill="#000" stroke="#000" stroke-width="21.6"/><text transform="translate(565.38,788.50) scale(1,1.055)">0</text>
<text transform="translate(615.24,788.50) scale(1,1.055)">20</text>
<text transform="translate(675.67,788.50) scale(1,1.055)">30</text>
<text transform="translate(736.10,788.50) scale(1,1.055)">40</text>
<text transform="translate(796.53,788.50) scale(1,1.055)">50</text>
<text transform="translate(445.22,774.94) scale(1,1.055)">0.4</text>
<text transform="translate(445.22,728.31) scale(1,1.055)">0.5</text>
<text transform="translate(445.22,681.68) scale(1,1.055)">0.6</text>
<text transform="translate(445.22,635.05) scale(1,1.055)">0.7</text>
<text transform="translate(445.22,588.42) scale(1,1.055)">0.8</text>
</g>
<text class="al" transform="translate(644.18,802.75) scale(1,1.03)" text-anchor="middle"><tspan font-style="italic">t</tspan><tspan class="sub" dy="2.5" font-style="italic">i</tspan><tspan dy="-2.5">&#8722;</tspan><tspan font-style="italic">t</tspan><tspan class="sub" dy="2.5">peak</tspan><tspan dy="-2.5" dx="1.3">[</tspan><tspan font-style="italic">M</tspan>]</text>
<text class="nl" transform="translate(525.24,753.80) scale(1,1.03)">N=5</text>
<g clip-path="url(#c5)" fill="none" stroke-width="1.75" stroke-linejoin="round">
<path d="M474.7,655.3 L476.7,657.0 L478.7,658.7 L480.7,660.4 L482.7,662.1 L484.7,663.8 L486.7,665.5 L488.7,667.3 L490.7,669.0 L492.7,670.7 L494.7,672.5 L496.7,674.2 L498.7,676.0 L500.7,677.7 L502.7,679.5 L504.7,681.2 L506.7,683.0 L508.7,684.8 L510.7,686.5 L512.7,688.3 L514.7,690.1 L516.7,691.8 L518.7,693.6 L520.7,695.4 L522.7,697.2 L524.7,698.9 L526.7,700.7 L528.7,702.5 L530.7,704.2 L532.7,706.0 L534.7,707.7 L536.7,709.4 L538.7,711.2 L540.7,712.9 L542.7,714.6 L544.7,716.3 L546.7,717.9 L548.7,719.6 L550.7,721.2 L552.6,722.8 L554.6,724.4 L556.6,726.0 L558.6,727.5 L560.6,729.0 L562.6,730.5 L564.6,732.0 L566.6,733.4 L568.6,734.8 L570.6,736.1 L572.6,737.4 L574.6,738.7 L576.6,740.0 L578.6,741.1 L580.6,742.3 L582.6,743.4 L584.6,744.5 L586.6,745.5 L588.6,746.4 L590.6,747.4 L592.6,748.2 L594.6,749.1 L596.6,749.8 L598.6,750.6 L600.6,751.3 L602.6,751.9 L604.6,752.5 L606.6,753.1 L608.6,753.6 L610.6,754.1 L612.6,754.5 L614.6,754.9 L616.6,755.3 L618.6,755.6 L620.6,755.9 L622.6,756.2 L624.6,756.5 L626.6,756.7 L628.6,756.9 L630.5,757.0 L632.5,757.2 L634.5,757.3 L636.5,757.4 L638.5,757.5 L640.5,757.5 L642.5,757.6 L644.5,757.6 L646.5,757.7 L648.5,757.7 L650.5,757.7 L652.5,757.7 L654.5,757.7 L656.5,757.7 L658.5,757.7 L660.5,757.6 L662.5,757.6 L664.5,757.6 L666.5,757.6 L668.5,757.5 L670.5,757.5 L672.5,757.5 L674.5,757.5 L676.5,757.4 L678.5,757.4 L680.5,757.4 L682.5,757.4 L684.5,757.4 L686.5,757.5 L688.5,757.5 L690.5,757.5 L692.5,757.6 L694.5,757.7 L696.5,757.7 L698.5,757.8 L700.5,757.9 L702.5,758.0 L704.5,758.2 L706.5,758.3 L708.5,758.4 L710.4,758.6 L712.4,758.7 L714.4,758.9 L716.4,759.0 L718.4,759.2 L720.4,759.4 L722.4,759.6 L724.4,759.7 L726.4,759.9 L728.4,760.1 L730.4,760.3 L732.4,760.5 L734.4,760.6 L736.4,760.8 L738.4,761.0 L740.4,761.2 L742.4,761.4 L744.4,761.6 L746.4,761.8 L748.4,762.0 L750.4,762.2 L752.4,762.4 L754.4,762.6 L756.4,762.8 L758.4,763.0 L760.4,763.2 L762.4,763.5 L764.4,763.7 L766.4,764.0 L768.4,764.2 L770.4,764.5 L772.4,764.7 L774.4,765.0 L776.4,765.3 L778.4,765.6 L780.4,765.9 L782.4,766.2 L784.4,766.5 L786.4,766.9 L788.3,767.2 L790.3,767.6" stroke="#ff0000" stroke-dasharray="5.2 2.45"/>
<path d="M474.5,629.7 L476.5,630.3 L478.5,630.8 L480.5,631.3 L482.5,631.7 L484.5,632.1 L486.5,632.3 L488.5,632.5 L490.5,632.7 L492.5,632.8 L494.5,632.9 L496.5,632.9 L498.5,632.9 L500.5,632.9 L502.5,632.9 L504.5,632.9 L506.5,632.9 L508.5,632.9 L510.5,632.9 L512.5,632.9 L514.5,632.9 L516.5,632.9 L518.5,632.8 L520.5,632.8 L522.5,632.7 L524.5,632.7 L526.5,632.7 L528.5,632.6 L530.5,632.6 L532.5,632.6 L534.5,632.5 L536.5,632.5 L538.5,632.5 L540.5,632.4 L542.5,632.4 L544.5,632.4 L546.5,632.4 L548.5,632.4 L550.5,632.4 L552.5,632.4 L554.5,632.3 L556.5,632.3 L558.5,632.3 L560.5,632.3 L562.5,632.3 L564.5,632.3 L566.5,632.3 L568.5,632.3 L570.5,632.3 L572.5,632.3 L574.5,632.2 L576.5,632.2 L578.5,632.2 L580.5,632.2 L582.5,632.2 L584.5,632.2 L586.5,632.2 L588.5,632.2 L590.5,632.2 L592.5,632.2 L594.5,632.2 L596.5,632.2 L598.5,632.2 L600.5,632.2 L602.5,632.2 L604.5,632.2 L606.5,632.2 L608.5,632.2 L610.5,632.2 L612.5,632.2 L614.5,632.2 L616.5,632.2 L618.5,632.2 L620.5,632.2 L622.5,632.2 L624.5,632.2 L626.5,632.2 L628.5,632.2 L630.5,632.2 L632.5,632.2 L634.5,632.2 L636.5,632.2 L638.5,632.2 L640.5,632.2 L642.4,632.2 L644.4,632.2 L646.4,632.2 L648.4,632.2 L650.4,632.2 L652.4,632.2 L654.4,632.2 L656.4,632.2 L658.4,632.2 L660.4,632.3 L662.4,632.3 L664.4,632.3 L666.4,632.3 L668.4,632.3 L670.4,632.3 L672.4,632.3 L674.4,632.3 L676.4,632.3 L678.4,632.3 L680.4,632.3 L682.4,632.3 L684.4,632.3 L686.4,632.3 L688.4,632.3 L690.4,632.3 L692.4,632.3 L694.4,632.3 L696.4,632.3 L698.4,632.3 L700.4,632.3 L702.4,632.3 L704.4,632.3 L706.4,632.3 L708.4,632.3 L710.4,632.3 L712.4,632.3 L714.4,632.3 L716.4,632.2 L718.4,632.2 L720.4,632.2 L722.4,632.2 L724.4,632.2 L726.4,632.1 L728.4,632.1 L730.4,632.1 L732.4,632.0 L734.4,631.9 L736.4,631.8 L738.4,631.7 L740.4,631.6 L742.4,631.5 L744.4,631.5 L746.4,631.5 L748.4,631.5 L750.4,631.5 L752.4,631.5 L754.4,631.5 L756.4,631.5 L758.4,631.6 L760.4,631.7 L762.4,631.9 L764.4,632.0 L766.4,632.3 L768.4,632.6 L770.4,633.0 L772.4,633.3 L774.4,633.6 L776.4,633.7 L778.4,633.8 L780.4,633.9 L782.4,634.0 L784.4,634.1 L786.4,634.2 L788.4,634.2 L790.4,634.2 L792.4,634.1 L794.4,633.9 L796.4,633.6 L798.4,633.3 L800.4,632.9 L802.4,632.5 L804.4,632.1 L806.4,631.5 L808.4,630.9" stroke="#000"/>
<path d="M474.5,629.7 L476.5,630.3 L478.5,630.9 L480.5,631.4 L482.5,631.9 L484.5,632.4 L486.5,632.6 L488.5,632.8 L490.5,632.9 L492.5,633.0 L494.5,633.1 L496.5,633.1 L498.5,633.2 L500.5,633.2 L502.5,633.2 L504.5,633.2 L506.5,633.3 L508.5,633.3 L510.5,633.3 L512.5,633.3 L514.5,633.3 L516.5,633.3 L518.5,633.4 L520.5,633.4 L522.5,633.4 L524.5,633.4 L526.5,633.4 L528.5,633.4 L530.5,633.4 L532.5,633.5 L534.5,633.5 L536.5,633.5 L538.5,633.5 L540.5,633.5 L542.5,633.5 L544.5,633.5 L546.5,633.6 L548.5,633.6 L550.5,633.6 L552.5,633.6 L554.5,633.6 L556.5,633.6 L558.5,633.6 L560.5,633.6 L562.5,633.6 L564.5,633.7 L566.5,633.7 L568.5,633.7 L570.5,633.7 L572.5,633.7 L574.5,633.7 L576.5,633.7 L578.5,633.7 L580.5,633.8 L582.5,633.8 L584.5,633.8 L586.5,633.8 L588.5,633.8 L590.5,633.8 L592.5,633.8 L594.5,633.8 L596.5,633.9 L598.5,633.9 L600.5,633.9 L602.5,633.9 L604.5,633.9 L606.5,633.9 L608.5,633.9 L610.5,634.0 L612.5,634.0 L614.5,634.0 L616.5,634.0 L618.5,634.0 L620.5,634.0 L622.5,634.0 L624.5,634.0 L626.5,634.1 L628.5,634.1 L630.5,634.1 L632.5,634.1 L634.5,634.1 L636.5,634.1 L638.5,634.1 L640.5,634.1 L642.5,634.2 L644.5,634.2 L646.5,634.2 L648.5,634.2 L650.5,634.2 L652.5,634.2 L654.5,634.2 L656.5,634.2 L658.5,634.2 L660.5,634.3 L662.5,634.3 L664.5,634.3 L666.5,634.3 L668.5,634.3 L670.5,634.3 L672.4,634.3 L674.4,634.3 L676.4,634.3 L678.4,634.3 L680.4,634.3 L682.4,634.3 L684.4,634.4 L686.4,634.4 L688.4,634.4 L690.4,634.4 L692.4,634.4 L694.4,634.4 L696.4,634.4 L698.4,634.4 L700.4,634.4 L702.4,634.4 L704.4,634.4 L706.4,634.4 L708.4,634.4 L710.4,634.4 L712.4,634.4 L714.4,634.4 L716.4,634.4 L718.4,634.4 L720.4,634.4 L722.4,634.4 L724.4,634.4 L726.4,634.4 L728.4,634.4 L730.4,634.4 L732.4,634.4 L734.4,634.4 L736.4,634.4 L738.4,634.4 L740.4,634.3 L742.4,634.2 L744.4,634.2 L746.4,634.1 L748.4,634.1 L750.4,634.1 L752.4,634.1 L754.4,634.2 L756.4,634.3 L758.4,634.4 L760.4,634.5 L762.4,634.6 L764.4,634.8 L766.4,634.9 L768.4,635.0 L770.4,635.2 L772.4,635.4 L774.4,635.5 L776.4,635.7 L778.4,635.8 L780.4,635.8 L782.4,635.9 L784.4,635.9 L786.4,635.9 L788.4,635.9 L790.4,635.7 L792.4,635.4 L794.4,635.1 L796.4,634.8 L798.4,634.4 L800.4,633.9 L802.4,633.5 L804.4,633.1 L806.4,632.8 L808.4,632.4" stroke="#0000ff" stroke-dasharray="2.7 2.1"/>
<path d="M473.83,631.98H808.2" stroke="#ff8000" stroke-width="1.9"/>
</g>
</g>
<g>
<clipPath id="c6"><rect x="46.03" y="826.2" width="341.3" height="210.29"/></clipPath>
<g stroke="#666" fill="none">
<path stroke-width="0.85" d="M46.73,826.17V1036.05"/>
<path stroke-width="0.95" d="M46.31,1035.60H386.03"/>
<path stroke-width="0.9" stroke="#5c5c5c" d="M77.35,1035.60v-3.9M137.78,1035.60v-3.9M198.21,1035.60v-3.9M258.64,1035.60v-3.9M319.07,1035.60v-3.9M379.50,1035.60v-3.9M46.73,989.38h3.9M46.73,942.75h3.9M46.73,896.12h3.9M46.73,849.49h3.9"/>
<path stroke-width="0.6" d="M53.18,1035.60v-2.3M65.26,1035.60v-2.3M89.44,1035.60v-2.3M101.52,1035.60v-2.3M113.61,1035.60v-2.3M125.69,1035.60v-2.3M149.87,1035.60v-2.3M161.95,1035.60v-2.3M174.04,1035.60v-2.3M186.12,1035.60v-2.3M210.30,1035.60v-2.3M222.38,1035.60v-2.3M234.47,1035.60v-2.3M246.55,1035.60v-2.3M270.73,1035.60v-2.3M282.81,1035.60v-2.3M294.90,1035.60v-2.3M306.98,1035.60v-2.3M331.16,1035.60v-2.3M343.24,1035.60v-2.3M355.33,1035.60v-2.3M367.41,1035.60v-2.3M46.73,1026.68h2.3M46.73,1017.36h2.3M46.73,1008.03h2.3M46.73,998.71h2.3M46.73,980.05h2.3M46.73,970.73h2.3M46.73,961.40h2.3M46.73,952.08h2.3M46.73,933.42h2.3M46.73,924.10h2.3M46.73,914.77h2.3M46.73,905.45h2.3M46.73,886.79h2.3M46.73,877.47h2.3M46.73,868.14h2.3M46.73,858.82h2.3M46.73,840.16h2.3M46.73,830.84h2.3"/>
</g>
<g class="tl">
<text transform="translate(74.37,1056.10) scale(1,1.055)">0</text>
<path transform="translate(127.01,1056.10) scale(0.009277,-0.009788)" d="M763 0H583V1147Q518 1085 412.5 1023T223 930V1104Q374 1175 487 1276T647 1472H763Z" fill="#000" stroke="#000" stroke-width="21.6"/><text transform="translate(137.58,1056.10) scale(1,1.055)">0</text>
<text transform="translate(187.44,1056.10) scale(1,1.055)">20</text>
<text transform="translate(247.87,1056.10) scale(1,1.055)">30</text>
<text transform="translate(308.30,1056.10) scale(1,1.055)">40</text>
<text transform="translate(368.73,1056.10) scale(1,1.055)">50</text>
<text transform="translate(17.42,1042.81) scale(1,1.055)">0.4</text>
<text transform="translate(17.42,996.18) scale(1,1.055)">0.5</text>
<text transform="translate(17.42,949.55) scale(1,1.055)">0.6</text>
<text transform="translate(17.42,902.92) scale(1,1.055)">0.7</text>
<text transform="translate(17.42,856.29) scale(1,1.055)">0.8</text>
</g>
<text class="al" transform="translate(216.38,1070.35) scale(1,1.03)" text-anchor="middle"><tspan font-style="italic">t</tspan><tspan class="sub" dy="2.5" font-style="italic">i</tspan><tspan dy="-2.5">&#8722;</tspan><tspan font-style="italic">t</tspan><tspan class="sub" dy="2.5">peak</tspan><tspan dy="-2.5" dx="1.3">[</tspan><tspan font-style="italic">M</tspan>]</text>
<text class="nl" transform="translate(97.44,1021.40) scale(1,1.03)">N=6</text>
<g clip-path="url(#c6)" fill="none" stroke-width="1.75" stroke-linejoin="round">
<path d="M46.7,930.6 L48.7,932.3 L50.7,933.9 L52.7,935.6 L54.7,937.3 L56.7,939.0 L58.7,940.8 L60.7,942.6 L62.7,944.4 L64.7,946.2 L66.7,948.0 L68.7,949.9 L70.7,951.7 L72.7,953.6 L74.7,955.5 L76.7,957.4 L78.7,959.3 L80.7,961.2 L82.7,963.2 L84.7,965.1 L86.7,967.0 L88.7,968.9 L90.7,970.8 L92.7,972.8 L94.7,974.7 L96.7,976.6 L98.7,978.5 L100.7,980.4 L102.7,982.2 L104.7,984.1 L106.7,986.0 L108.7,987.8 L110.7,989.6 L112.7,991.4 L114.7,993.2 L116.7,994.9 L118.7,996.6 L120.7,998.3 L122.7,1000.0 L124.7,1001.6 L126.7,1003.2 L128.7,1004.8 L130.7,1006.3 L132.7,1007.8 L134.7,1009.3 L136.7,1010.7 L138.7,1012.1 L140.7,1013.5 L142.7,1014.8 L144.7,1016.1 L146.7,1017.3 L148.7,1018.5 L150.7,1019.7 L152.7,1020.8 L154.7,1021.9 L156.7,1023.0 L158.7,1024.0 L160.7,1024.9 L162.7,1025.9 L164.7,1026.8 L166.7,1027.6 L168.7,1028.4 L170.7,1029.2 L172.7,1029.9 L174.7,1030.5 L176.7,1031.2 L178.7,1031.8 L180.7,1032.3 L182.7,1032.8 L184.7,1033.3 L186.7,1033.7 L188.7,1034.1 L190.7,1034.4 L192.7,1034.7 L194.7,1034.9 L196.7,1035.2 L198.7,1035.3 L200.7,1035.5 L202.7,1035.6 L204.7,1035.6 L206.7,1035.6 L208.7,1035.6 L210.7,1035.6 L212.7,1035.5 L214.7,1035.4" stroke="#ff0000" stroke-dasharray="5.2 2.45"/>
<path d="M46.5,900.0 L48.5,900.0 L50.5,900.0 L52.5,900.0 L54.5,900.0 L56.5,900.0 L58.5,900.0 L60.5,900.0 L62.5,900.0 L64.5,900.0 L66.5,900.0 L68.5,900.0 L70.5,900.0 L72.5,900.0 L74.5,900.0 L76.5,900.0 L78.5,900.1 L80.5,900.1 L82.5,900.1 L84.5,900.1 L86.5,900.1 L88.5,900.1 L90.5,900.1 L92.5,900.1 L94.5,900.1 L96.5,900.1 L98.5,900.1 L100.5,900.1 L102.5,900.1 L104.5,900.1 L106.5,900.1 L108.5,900.1 L110.5,900.1 L112.5,900.1 L114.5,900.1 L116.5,900.1 L118.5,900.1 L120.5,900.1 L122.5,900.1 L124.5,900.1 L126.5,900.1 L128.5,900.1 L130.5,900.1 L132.5,900.2 L134.5,900.2 L136.5,900.2 L138.5,900.2 L140.5,900.2 L142.5,900.2 L144.5,900.2 L146.5,900.2 L148.5,900.2 L150.5,900.2 L152.5,900.2 L154.5,900.2 L156.5,900.2 L158.5,900.2 L160.5,900.2 L162.5,900.2 L164.5,900.2 L166.5,900.2 L168.5,900.2 L170.5,900.2 L172.5,900.2 L174.5,900.2 L176.5,900.2 L178.5,900.2 L180.5,900.2 L182.5,900.2 L184.5,900.2 L186.5,900.2 L188.5,900.2 L190.5,900.2 L192.5,900.2 L194.5,900.2 L196.5,900.2 L198.5,900.2 L200.5,900.2 L202.5,900.2 L204.5,900.2 L206.5,900.2 L208.5,900.2 L210.5,900.2 L212.5,900.2 L214.4,900.2 L216.4,900.2 L218.4,900.2 L220.4,900.2 L222.4,900.2 L224.4,900.2 L226.4,900.2 L228.4,900.2 L230.4,900.2 L232.4,900.2 L234.4,900.2 L236.4,900.2 L238.4,900.2 L240.4,900.1 L242.4,900.1 L244.4,900.1 L246.4,900.1 L248.4,900.1 L250.4,900.1 L252.4,900.1 L254.4,900.1 L256.4,900.1 L258.4,900.1 L260.4,900.1 L262.4,900.1 L264.4,900.1 L266.4,900.1 L268.4,900.1 L270.4,900.0 L272.4,900.0 L274.4,900.0 L276.4,900.0 L278.4,900.0 L280.4,900.0 L282.4,900.0 L284.4,899.9 L286.4,899.8 L288.4,899.6 L290.4,899.5 L292.4,899.4 L294.4,899.2 L296.4,899.1 L298.4,899.0 L300.4,898.8 L302.4,898.7 L304.4,898.6 L306.4,898.6 L308.4,898.6 L310.4,898.7 L312.4,898.8 L314.4,898.9 L316.4,899.1 L318.4,899.2 L320.4,899.4 L322.4,899.7 L324.4,900.0 L326.4,900.4 L328.4,900.6 L330.4,900.8 L332.4,901.0 L334.4,901.2 L336.4,901.4 L338.4,901.5 L340.4,901.7 L342.4,901.8 L344.4,901.8 L346.4,901.8 L348.4,901.7 L350.4,901.7 L352.4,901.6 L354.4,901.5 L356.4,901.3 L358.4,901.2 L360.4,900.9 L362.4,900.5 L364.4,900.0 L366.4,899.5 L368.4,899.1 L370.4,898.8 L372.4,898.5 L374.4,898.1 L376.4,897.8 L378.4,897.6 L380.4,897.3" stroke="#000"/>
<path d="M46.5,900.0 L48.5,900.0 L50.5,900.1 L52.5,900.1 L54.5,900.1 L56.5,900.2 L58.5,900.2 L60.5,900.2 L62.5,900.3 L64.5,900.3 L66.5,900.3 L68.5,900.4 L70.5,900.4 L72.5,900.4 L74.5,900.5 L76.5,900.5 L78.5,900.6 L80.5,900.6 L82.5,900.6 L84.5,900.7 L86.5,900.7 L88.5,900.8 L90.5,900.8 L92.5,900.8 L94.5,900.9 L96.5,900.9 L98.5,901.0 L100.5,901.0 L102.5,901.1 L104.5,901.1 L106.5,901.1 L108.5,901.2 L110.5,901.2 L112.5,901.2 L114.5,901.3 L116.5,901.3 L118.5,901.4 L120.5,901.4 L122.5,901.5 L124.5,901.5 L126.5,901.5 L128.5,901.5 L130.5,901.6 L132.5,901.6 L134.5,901.6 L136.5,901.6 L138.5,901.6 L140.5,901.6 L142.5,901.6 L144.5,901.6 L146.5,901.7 L148.5,901.7 L150.5,901.7 L152.5,901.7 L154.5,901.7 L156.5,901.7 L158.5,901.7 L160.5,901.7 L162.5,901.7 L164.5,901.7 L166.5,901.7 L168.4,901.7 L170.4,901.7 L172.4,901.7 L174.4,901.7 L176.4,901.7 L178.4,901.7 L180.4,901.7 L182.4,901.7 L184.4,901.7 L186.4,901.7 L188.4,901.7 L190.4,901.7 L192.4,901.7 L194.4,901.7 L196.4,901.7 L198.4,901.7 L200.4,901.7 L202.4,901.7 L204.4,901.7 L206.4,901.7 L208.4,901.7 L210.4,901.7 L212.4,901.7 L214.4,901.8 L216.4,901.8 L218.4,901.8 L220.4,901.8 L222.4,901.8 L224.4,901.8 L226.4,901.8 L228.4,901.8 L230.4,901.9 L232.4,901.9 L234.4,901.9 L236.4,901.9 L238.4,901.9 L240.4,902.0 L242.4,902.0 L244.4,902.1 L246.4,902.2 L248.4,902.2 L250.4,902.3 L252.4,902.4 L254.4,902.5 L256.4,902.6 L258.4,902.7 L260.4,902.8 L262.4,902.9 L264.4,903.0 L266.4,903.0 L268.4,903.1 L270.4,903.2 L272.4,903.3 L274.4,903.4 L276.4,903.4 L278.4,903.5 L280.4,903.5 L282.4,903.6 L284.4,903.6 L286.4,903.6 L288.4,903.6 L290.4,903.6 L292.4,903.6 L294.4,903.6 L296.4,903.6 L298.4,903.6 L300.4,903.6 L302.4,903.6 L304.4,903.6 L306.4,903.6 L308.4,903.6 L310.4,903.6 L312.4,903.6 L314.4,903.6 L316.4,903.7 L318.4,903.7 L320.4,903.8 L322.4,903.9 L324.4,903.9 L326.4,904.1 L328.4,904.2 L330.4,904.4 L332.4,904.5 L334.4,904.6 L336.4,904.6 L338.4,904.6 L340.4,904.6 L342.4,904.6 L344.4,904.6 L346.4,904.6 L348.4,904.5 L350.4,904.4 L352.4,904.2 L354.4,904.0 L356.4,903.7 L358.4,903.4 L360.4,903.1 L362.4,902.8 L364.4,902.4 L366.4,902.1 L368.4,901.7 L370.4,901.3 L372.4,900.9 L374.4,900.5 L376.4,900.1 L378.4,899.7 L380.4,899.3" stroke="#0000ff" stroke-dasharray="2.7 2.1"/>
<path d="M46.03,899.90H380.4" stroke="#ff8000" stroke-width="1.9"/>
</g>
</g>
<g>
<clipPath id="c7"><rect x="473.83" y="826.2" width="341.3" height="210.29"/></clipPath>
<g stroke="#666" fill="none">
<path stroke-width="0.85" d="M474.53,826.17V1036.05"/>
<path stroke-width="0.95" d="M474.11,1035.60H813.83"/>
<path stroke-width="0.9" stroke="#5c5c5c" d="M505.15,1035.60v-3.9M565.58,1035.60v-3.9M626.01,1035.60v-3.9M686.44,1035.60v-3.9M746.87,1035.60v-3.9M807.30,1035.60v-3.9M474.53,989.38h3.9M474.53,942.75h3.9M474.53,896.12h3.9M474.53,849.49h3.9"/>
<path stroke-width="0.6" d="M480.98,1035.60v-2.3M493.06,1035.60v-2.3M517.24,1035.60v-2.3M529.32,1035.60v-2.3M541.41,1035.60v-2.3M553.49,1035.60v-2.3M577.67,1035.60v-2.3M589.75,1035.60v-2.3M601.84,1035.60v-2.3M613.92,1035.60v-2.3M638.10,1035.60v-2.3M650.18,1035.60v-2.3M662.27,1035.60v-2.3M674.35,1035.60v-2.3M698.53,1035.60v-2.3M710.61,1035.60v-2.3M722.70,1035.60v-2.3M734.78,1035.60v-2.3M758.96,1035.60v-2.3M771.04,1035.60v-2.3M783.13,1035.60v-2.3M795.21,1035.60v-2.3M474.53,1026.68h2.3M474.53,1017.36h2.3M474.53,1008.03h2.3M474.53,998.71h2.3M474.53,980.05h2.3M474.53,970.73h2.3M474.53,961.40h2.3M474.53,952.08h2.3M474.53,933.42h2.3M474.53,924.10h2.3M474.53,914.77h2.3M474.53,905.45h2.3M474.53,886.79h2.3M474.53,877.47h2.3M474.53,868.14h2.3M474.53,858.82h2.3M474.53,840.16h2.3M474.53,830.84h2.3"/>
</g>
<g class="tl">
<text transform="translate(502.17,1056.10) scale(1,1.055)">0</text>
<path transform="translate(554.81,1056.10) scale(0.009277,-0.009788)" d="M763 0H583V1147Q518 1085 412.5 1023T223 930V1104Q374 1175 487 1276T647 1472H763Z" fill="#000" stroke="#000" stroke-width="21.6"/><text transform="translate(565.38,1056.10) scale(1,1.055)">0</text>
<text transform="translate(615.24,1056.10) scale(1,1.055)">20</text>
<text transform="translate(675.67,1056.10) scale(1,1.055)">30</text>
<text transform="translate(736.10,1056.10) scale(1,1.055)">40</text>
<text transform="translate(796.53,1056.10) scale(1,1.055)">50</text>
<text transform="translate(445.22,1042.81) scale(1,1.055)">0.4</text>
<text transform="translate(445.22,996.18) scale(1,1.055)">0.5</text>
<text transform="translate(445.22,949.55) scale(1,1.055)">0.6</text>
<text transform="translate(445.22,902.92) scale(1,1.055)">0.7</text>
<text transform="translate(445.22,856.29) scale(1,1.055)">0.8</text>
</g>
<text class="al" transform="translate(644.18,1070.35) scale(1,1.03)" text-anchor="middle"><tspan font-style="italic">t</tspan><tspan class="sub" dy="2.5" font-style="italic">i</tspan><tspan dy="-2.5">&#8722;</tspan><tspan font-style="italic">t</tspan><tspan class="sub" dy="2.5">peak</tspan><tspan dy="-2.5" dx="1.3">[</tspan><tspan font-style="italic">M</tspan>]</text>
<text class="nl" transform="translate(525.24,1021.40) scale(1,1.03)">N=7</text>
<g clip-path="url(#c7)" fill="none" stroke-width="1.75" stroke-linejoin="round">
<path d="M474.6,939.4 L478.9,939.7 L481.0,944.3 L483.5,947.3 L487.7,949.2 L489.8,952.8 L492.3,954.6 L495.3,958.3 L497.8,960.8 L502.0,963.7 L503.7,966.3 L507.1,968.1 L509.2,971.7 L511.7,973.2 L513.9,976.0 L516.8,978.2 L518.9,980.4 L520.0,982.1 L523.4,985.1 L526.7,988.4 L528.4,991.8 L531.0,993.1 L534.3,993.5 L535.6,997.3 L538.1,998.1 L540.2,1002.8 L543.6,1004.5 L545.3,1007.0 L548.7,1009.1 L551.2,1010.8 L552.5,1012.5 L557.1,1015.4 L558.8,1018.4 L564.7,1018.8 L566.0,1022.2 L567.2,1023.9 L572.7,1024.7 L574.0,1027.2 L576.1,1028.5 L578.2,1030.2 L584.1,1030.4 L588.7,1030.4 L589.2,1035.2" stroke="#ff0000" stroke-dasharray="5.2 2.45"/>
<path d="M474.5,900.0 L476.5,900.0 L478.5,900.0 L480.5,900.0 L482.5,900.0 L484.5,900.0 L486.5,900.0 L488.5,900.0 L490.5,900.0 L492.5,900.0 L494.5,900.0 L496.5,900.0 L498.5,900.0 L500.5,900.0 L502.5,900.0 L504.5,900.0 L506.5,900.0 L508.5,900.1 L510.5,900.1 L512.5,900.1 L514.5,900.1 L516.5,900.1 L518.5,900.1 L520.5,900.1 L522.5,900.1 L524.5,900.1 L526.5,900.1 L528.5,900.1 L530.5,900.1 L532.5,900.1 L534.5,900.1 L536.5,900.1 L538.5,900.1 L540.5,900.1 L542.5,900.1 L544.5,900.1 L546.5,900.1 L548.5,900.1 L550.5,900.1 L552.5,900.1 L554.5,900.1 L556.5,900.1 L558.5,900.1 L560.5,900.1 L562.5,900.2 L564.5,900.2 L566.5,900.2 L568.5,900.2 L570.5,900.2 L572.5,900.2 L574.5,900.2 L576.5,900.2 L578.5,900.2 L580.5,900.2 L582.5,900.2 L584.5,900.2 L586.5,900.2 L588.5,900.2 L590.5,900.2 L592.5,900.2 L594.5,900.2 L596.5,900.2 L598.5,900.2 L600.5,900.2 L602.5,900.2 L604.5,900.2 L606.5,900.2 L608.5,900.2 L610.5,900.2 L612.5,900.2 L614.5,900.2 L616.5,900.2 L618.5,900.2 L620.5,900.2 L622.5,900.2 L624.5,900.2 L626.5,900.2 L628.5,900.2 L630.5,900.2 L632.5,900.2 L634.5,900.2 L636.5,900.2 L638.5,900.2 L640.5,900.2 L642.4,900.2 L644.4,900.2 L646.4,900.2 L648.4,900.2 L650.4,900.2 L652.4,900.2 L654.4,900.2 L656.4,900.2 L658.4,900.2 L660.4,900.2 L662.4,900.2 L664.4,900.2 L666.4,900.2 L668.4,900.2 L670.4,900.2 L672.4,900.2 L674.4,900.2 L676.4,900.2 L678.4,900.2 L680.4,900.1 L682.4,900.1 L684.4,900.1 L686.4,900.1 L688.4,900.1 L690.4,900.1 L692.4,900.1 L694.4,900.1 L696.4,900.1 L698.4,900.1 L700.4,900.1 L702.4,900.1 L704.4,900.0 L706.4,899.9 L708.4,899.8 L710.4,899.7 L712.4,899.6 L714.4,899.5 L716.4,899.4 L718.4,899.3 L720.4,899.2 L722.4,899.1 L724.4,899.0 L726.4,898.9 L728.4,898.8 L730.4,898.8 L732.4,898.8 L734.4,898.9 L736.4,899.0 L738.4,899.1 L740.4,899.2 L742.4,899.4 L744.4,899.5 L746.4,899.8 L748.4,900.0 L750.4,900.2 L752.4,900.5 L754.4,900.7 L756.4,901.0 L758.4,901.2 L760.4,901.3 L762.4,901.4 L764.4,901.5 L766.4,901.6 L768.4,901.6 L770.4,901.5 L772.4,901.4 L774.4,901.2 L776.4,901.1 L778.4,900.8 L780.4,900.5 L782.4,900.1 L784.4,899.6 L786.4,899.1 L788.4,898.7 L790.4,898.3 L792.4,897.9 L794.4,897.6 L796.4,897.3 L798.4,897.2 L800.4,897.1 L802.4,897.1 L804.4,897.1 L806.4,897.3 L808.4,897.6" stroke="#000"/>
<path d="M474.5,900.1 L476.5,900.2 L478.5,900.3 L480.5,900.3 L482.5,900.4 L484.5,900.5 L486.5,900.5 L488.5,900.6 L490.5,900.7 L492.5,900.7 L494.5,900.8 L496.5,900.8 L498.5,900.9 L500.5,900.9 L502.5,900.9 L504.5,901.0 L506.5,901.0 L508.5,901.0 L510.5,901.1 L512.5,901.1 L514.5,901.1 L516.5,901.1 L518.5,901.2 L520.5,901.2 L522.5,901.2 L524.5,901.2 L526.5,901.2 L528.5,901.3 L530.5,901.3 L532.5,901.3 L534.5,901.4 L536.5,901.4 L538.5,901.5 L540.5,901.5 L542.5,901.6 L544.5,901.6 L546.5,901.6 L548.5,901.7 L550.5,901.7 L552.5,901.8 L554.5,901.8 L556.5,901.9 L558.5,901.9 L560.5,901.9 L562.5,902.0 L564.5,902.0 L566.5,902.0 L568.5,902.0 L570.5,902.1 L572.5,902.1 L574.5,902.1 L576.5,902.1 L578.5,902.2 L580.5,902.2 L582.5,902.2 L584.5,902.2 L586.5,902.2 L588.5,902.3 L590.5,902.3 L592.5,902.3 L594.5,902.3 L596.5,902.3 L598.5,902.3 L600.5,902.3 L602.5,902.3 L604.5,902.3 L606.5,902.3 L608.5,902.3 L610.5,902.2 L612.5,902.2 L614.5,902.2 L616.5,902.2 L618.5,902.2 L620.5,902.1 L622.5,902.1 L624.5,902.1 L626.5,902.1 L628.5,902.0 L630.5,902.0 L632.5,902.0 L634.5,902.0 L636.5,902.0 L638.5,901.9 L640.5,901.9 L642.4,901.9 L644.4,901.9 L646.4,901.9 L648.4,901.9 L650.4,901.9 L652.4,901.9 L654.4,901.8 L656.4,901.8 L658.4,901.8 L660.4,901.8 L662.4,901.8 L664.4,901.8 L666.4,901.8 L668.4,901.8 L670.4,901.9 L672.4,902.0 L674.4,902.1 L676.4,902.2 L678.4,902.3 L680.4,902.4 L682.4,902.5 L684.4,902.6 L686.4,902.8 L688.4,902.8 L690.4,902.9 L692.4,902.9 L694.4,903.0 L696.4,903.0 L698.4,903.1 L700.4,903.1 L702.4,903.2 L704.4,903.2 L706.4,903.2 L708.4,903.3 L710.4,903.3 L712.4,903.3 L714.4,903.3 L716.4,903.3 L718.4,903.3 L720.4,903.3 L722.4,903.3 L724.4,903.3 L726.4,903.3 L728.4,903.3 L730.4,903.3 L732.4,903.3 L734.4,903.3 L736.4,903.3 L738.4,903.3 L740.4,903.3 L742.4,903.4 L744.4,903.6 L746.4,903.8 L748.4,904.0 L750.4,904.2 L752.4,904.4 L754.4,904.7 L756.4,905.0 L758.4,905.2 L760.4,905.4 L762.4,905.6 L764.4,905.6 L766.4,905.7 L768.4,905.7 L770.4,905.7 L772.4,905.5 L774.4,905.2 L776.4,904.8 L778.4,904.3 L780.4,903.4 L782.4,902.6 L784.4,902.3 L786.4,902.0 L788.4,901.8 L790.4,901.5 L792.4,901.3 L794.4,901.1 L796.4,900.9 L798.4,900.6 L800.4,900.4 L802.4,900.2 L804.4,900.0 L806.4,899.7 L808.4,899.5" stroke="#0000ff" stroke-dasharray="2.7 2.1"/>
<path d="M473.83,899.90H808.2" stroke="#ff8000" stroke-width="1.9"/>
</g>
</g>
</svg></body></html>
